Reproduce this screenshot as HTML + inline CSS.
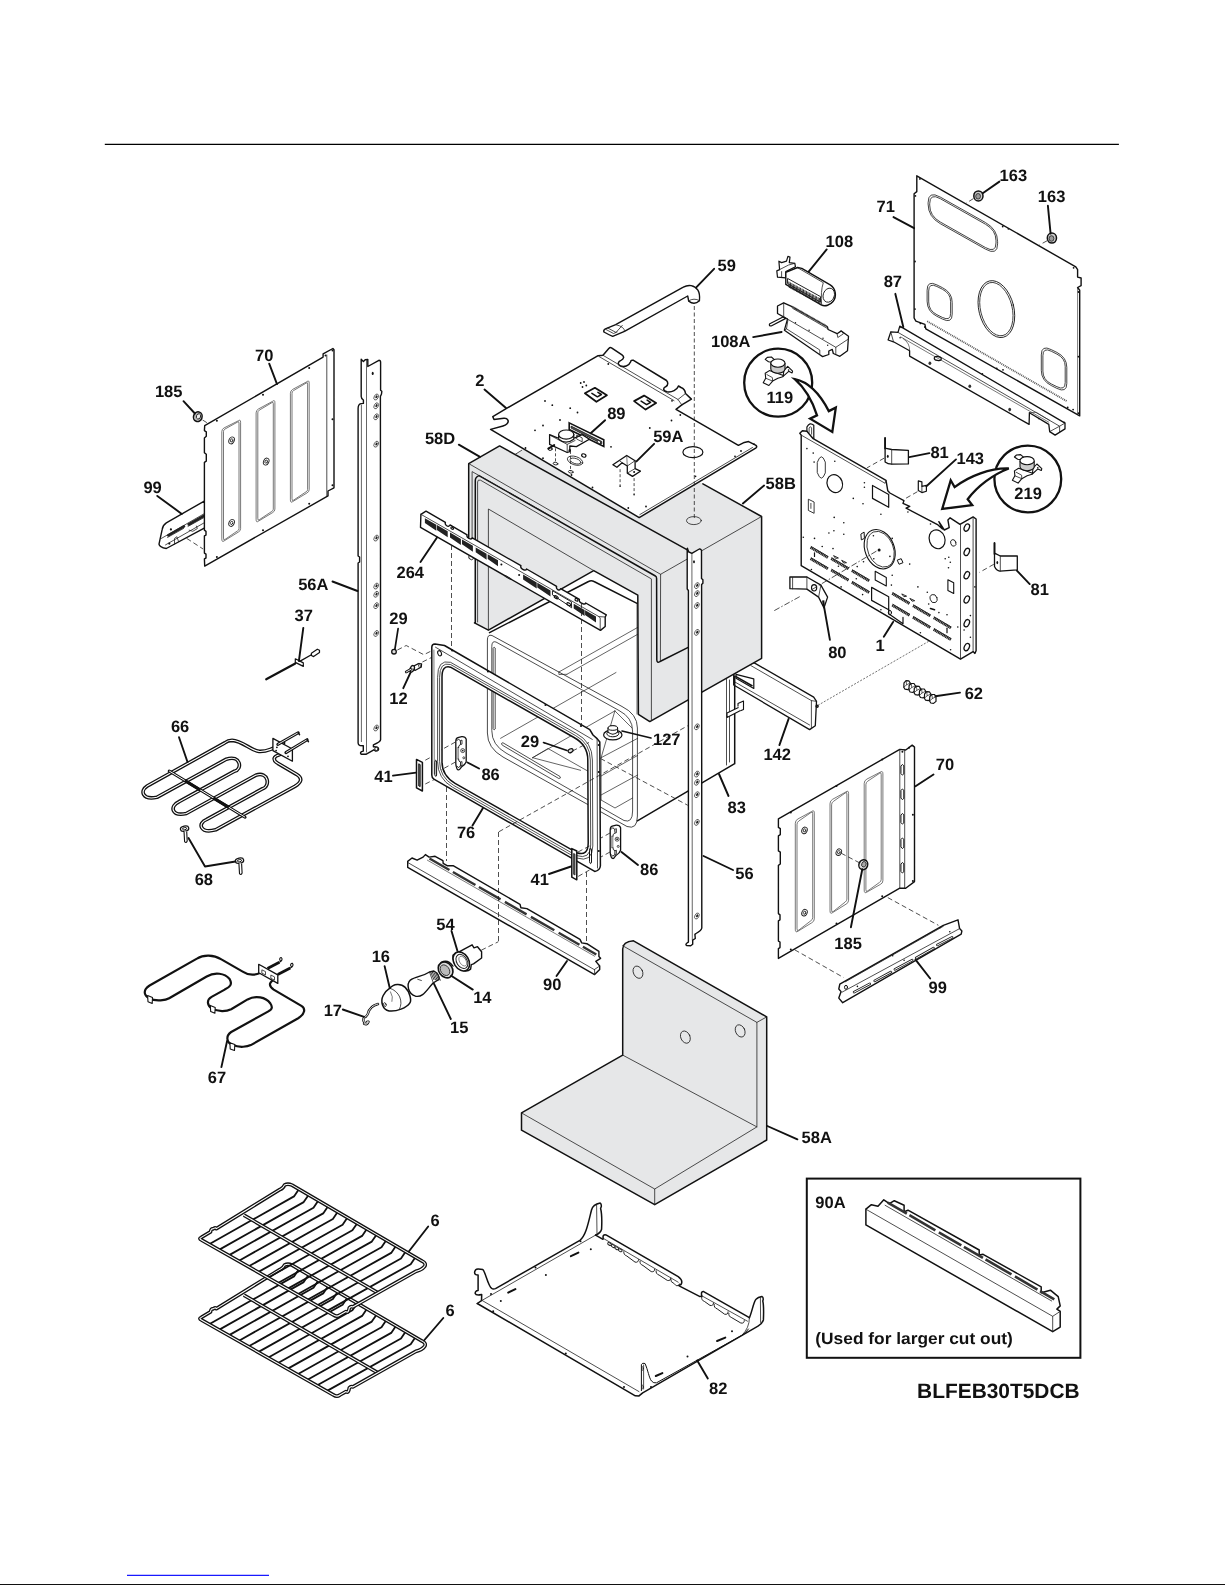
<!DOCTYPE html>
<html><head><meta charset="utf-8"><title>Parts diagram</title>
<style>
html,body{margin:0;padding:0;background:#fff;}
body{width:1225px;height:1585px;overflow:hidden;font-family:"Liberation Sans",sans-serif;}
svg{display:block;}
.k{fill:none;stroke:#111;stroke-width:1.5;stroke-linejoin:round;stroke-linecap:round;}
.t{fill:none;stroke:#222;stroke-width:0.8;stroke-linejoin:round;stroke-linecap:round;}
.w{fill:#fff;stroke:#111;stroke-width:1.5;stroke-linejoin:round;}
.wt{fill:#fff;stroke:#222;stroke-width:0.8;stroke-linejoin:round;}
.g{fill:#e6e7e8;stroke:#111;stroke-width:1.5;stroke-linejoin:round;}
.gt{fill:#e6e7e8;stroke:#222;stroke-width:0.8;stroke-linejoin:round;}
.d{fill:none;stroke:#222;stroke-width:0.8;stroke-dasharray:5 3;}
.l{fill:none;stroke:#111;stroke-width:1.9;stroke-linecap:round;}
.b{fill:#111;stroke:none;}
</style></head><body>
<svg width="1225" height="1585" viewBox="0 0 1225 1585">
<rect width="1225" height="1585" fill="#fff"/>
<!-- p00_frame -->
<line x1="104.8" y1="144.4" x2="1118.9" y2="144.4" stroke="#000" stroke-width="1.3"/>
<line x1="127" y1="1575.4" x2="269" y2="1575.4" stroke="#1a1aff" stroke-width="1.1"/>
<rect x="0" y="1584" width="1225" height="1" fill="#111"/>
<!-- p10_panel70L -->
<path class="w" d="M204.7 500.8L166.3 522.9Q162.7 525.3 162.2 529.4L159 544.1Q159.5 547.3 166.3 548.5L204.7 527.8Z" style="stroke-width:1.4"/>
<path class="t" d="M161.4 538.4L204.7 513.4"/>
<path class="t" d="M165.5 544.9L204.7 522.5"/>
<path d="M168.3 535.4L184 526.4" style="fill:none;stroke:#222;stroke-width:2.6;stroke-linecap:round"/>
<path class="t" d="M167.6 537.4L183.6 528.4"/>
<path d="M188.7 524.5L204.7 515.3" style="fill:none;stroke:#222;stroke-width:2.6;stroke-linecap:round"/>
<path class="t" d="M188 526.4L204.4 517.3"/>
<path class="t" d="M174.5 544.1L174.5 538.4L176.9 536.7L178.6 541.6"/>
<path class="t" d="M189.2 530.2L192.8 531.3L197.3 528.6L196.5 526.1"/>
<circle class="b" cx="170.9" cy="529.4" r="1.1"/>
<circle class="b" cx="169.3" cy="543.6" r="1.1"/>
<path class="d" d="M186.7 538.4L203.1 549"/>
<path class="w" d="M204.7 425.7L323.1 357.1L323.1 353.9L332.9 348.5L334 349.8L334 487.8L328 491L328 495.9L204.7 566.1L204.4 558.8L206 558L206 554.2L204.4 553.1L204.4 535.9L206 535.1L206 531.3L204.4 530.2L204.4 462.4L206.3 461.1L206.3 454.3L204.4 452.7L204.4 438L206.3 436.3L206.3 431.8L204.4 430.6Z" style="stroke-width:1.4"/>
<path class="t" d="M326.8 355L326.8 496.4"/>
<path class="t" d="M221.8 431.3Q221.8 429 224.1 427.9L238.3 420.8Q240.6 419 240.6 422.3L240.6 528.7Q240.6 531 238.3 532.1L224.1 540.9Q221.8 542.6 221.8 539.3Z" style="stroke:#555;stroke-width:0.8"/>
<path class="t" d="M223.5 431.3Q223.5 429.8 224.9 429.1L237.5 422.1Q239 420.8 239 423.2L239 528.7Q239 530.2 237.5 530.9L224.9 539.5Q223.5 540.9 223.5 538.4Z" style="stroke:#555;stroke-width:0.8"/>
<path class="t" d="M256.1 412.5Q256.1 410.2 258.4 409L272.6 401.3Q274.9 399.4 274.9 402.7L274.9 509.1Q274.9 511.4 272.6 512.6L258.4 521.2Q256.1 523 256.1 519.8Z" style="stroke:#555;stroke-width:0.8"/>
<path class="t" d="M257.8 412.5Q257.8 411 259.2 410.2L271.8 402.7Q273.3 401.3 273.3 403.7L273.3 509.2Q273.3 510.6 271.8 511.4L259.2 519.8Q257.8 521.2 257.8 518.7Z" style="stroke:#555;stroke-width:0.8"/>
<path class="t" d="M290.4 392.9Q290.4 390.6 292.7 389.4L306.9 381.7Q309.2 379.8 309.2 383.1L309.2 489.6Q309.2 491.8 306.9 493L292.7 501.6Q290.4 503.4 290.4 500.2Z" style="stroke:#555;stroke-width:0.8"/>
<path class="t" d="M292 392.9Q292 391.4 293.5 390.6L306.1 383.1Q307.6 381.7 307.6 384.1L307.6 489.6Q307.6 491.1 306.1 491.8L293.5 500.2Q292 501.6 292 499.1Z" style="stroke:#555;stroke-width:0.8"/>
<ellipse class="t" cx="231.6" cy="440.4" rx="2.6" ry="3.6" transform="rotate(25 231.6 440.4)" style="stroke-width:0.9"/>
<ellipse class="t" cx="231.6" cy="440.4" rx="1.2" ry="1.7" transform="rotate(25 231.6 440.4)" style="stroke-width:0.8"/>
<ellipse class="t" cx="231.6" cy="522.9" rx="2.6" ry="3.6" transform="rotate(25 231.6 522.9)" style="stroke-width:0.9"/>
<ellipse class="t" cx="231.6" cy="522.9" rx="1.2" ry="1.7" transform="rotate(25 231.6 522.9)" style="stroke-width:0.8"/>
<ellipse class="t" cx="266.2" cy="461.6" rx="2.6" ry="3.6" transform="rotate(25 266.2 461.6)" style="stroke-width:0.9"/>
<ellipse class="t" cx="266.2" cy="461.6" rx="1.2" ry="1.7" transform="rotate(25 266.2 461.6)" style="stroke-width:0.8"/>
<circle class="b" cx="216.9" cy="420.8" r="1"/>
<circle class="b" cx="263" cy="394.7" r="1"/>
<circle class="b" cx="309.2" cy="368.1" r="1"/>
<circle class="b" cx="332.5" cy="419.2" r="1"/>
<circle class="b" cx="216.9" cy="557.1" r="1"/>
<circle class="b" cx="263" cy="530.2" r="1"/>
<circle class="b" cx="309.2" cy="503.8" r="1"/>
<circle class="b" cx="325.5" cy="355.5" r="1"/>
<circle class="b" cx="332.5" cy="350.6" r="1"/>
<circle class="b" cx="332.5" cy="485.3" r="1"/>
<ellipse cx="197.8" cy="416.7" rx="4.3" ry="4.9" transform="rotate(20 197.8 416.7)" style="fill:#bbb;stroke:#111;stroke-width:1.5"/>
<ellipse cx="198.5" cy="416.4" rx="2.1" ry="2.7" transform="rotate(20 198.5 416.4)" style="fill:#eee;stroke:#222;stroke-width:0.9"/>
<path class="d" d="M202.6 420L207.1 422.8"/>
<path class="l" d="M183.5 401.2L194.9 413.5"/>
<path class="l" d="M269.2 363.7L277 384.1"/>
<path class="l" d="M157.3 495.9L181.8 513.9"/>
<!-- p11_elements -->
<path d="M283.5 742.8C273.7 748.2 267.1 751.9 259 751.4C250.8 750.6 242.7 740.8 232 740.3Q228 740.3 224.7 742.9L147.1 786.1C139.8 790.6 142.2 800.4 156.9 797.3L226.3 759.2C241 754.5 242.7 769.5 234.5 771.2L179 801.7C169.2 806.1 171.6 816.7 186.3 813.5L255.7 775.3C268.8 770.7 270.4 786.7 262.6 788.7L206.7 819.4C196.9 823.3 200.2 833.9 215.7 829.8L294.9 786.3C301.4 782.4 303.1 778.4 296.5 774.3L277.8 763.3C272 759.6 273.7 756.3 279.4 754.7L287.6 750.3" fill="none" stroke="#111" stroke-width="3.7" stroke-linejoin="round" stroke-linecap="round"/>
<path d="M283.5 742.8C273.7 748.2 267.1 751.9 259 751.4C250.8 750.6 242.7 740.8 232 740.3Q228 740.3 224.7 742.9L147.1 786.1C139.8 790.6 142.2 800.4 156.9 797.3L226.3 759.2C241 754.5 242.7 769.5 234.5 771.2L179 801.7C169.2 806.1 171.6 816.7 186.3 813.5L255.7 775.3C268.8 770.7 270.4 786.7 262.6 788.7L206.7 819.4C196.9 823.3 200.2 833.9 215.7 829.8L294.9 786.3C301.4 782.4 303.1 778.4 296.5 774.3L277.8 763.3C272 759.6 273.7 756.3 279.4 754.7L287.6 750.3" fill="none" stroke="#fff" stroke-width="1.1" stroke-linejoin="round" stroke-linecap="round"/>
<path d="M169.2 771L245.1 817.2" fill="none" stroke="#111" stroke-width="3" stroke-linecap="round"/>
<path d="M169.2 771L245.1 817.2" fill="none" stroke="#fff" stroke-width="1"/>
<path d="M184.7 780.5L200.2 790M213.3 798L228.8 807.4" fill="none" stroke="#111" stroke-width="3.2"/>
<path class="w" d="M272.9 738.4L292.4 749L292.4 761.2L272.9 750.6Z" style="stroke-width:1.3"/>
<path d="M277.8 744.4L298.2 732.7" fill="none" stroke="#111" stroke-width="3" stroke-linecap="round"/>
<path d="M277.8 744.4L298.2 732.7" fill="none" stroke="#fff" stroke-width="0.9"/>
<path class="k" d="M298.2 732.7L299.5 734.6" style="stroke-width:1.6"/>
<path d="M285.9 752.6L307.1 739.7" fill="none" stroke="#111" stroke-width="3" stroke-linecap="round"/>
<path d="M285.9 752.6L307.1 739.7" fill="none" stroke="#fff" stroke-width="0.9"/>
<path class="k" d="M307.1 739.7L308.4 741.6" style="stroke-width:1.6"/>
<circle class="b" cx="276.1" cy="750.6" r="0.9"/>
<circle class="b" cx="288" cy="756.3" r="0.9"/>
<circle class="b" cx="276.9" cy="747.3" r="0.9"/>
<path class="l" d="M179 737.2L187.5 762"/>
<ellipse cx="184.6" cy="828.7" rx="4.2" ry="2.6" transform="rotate(-12 184.6 828.7)" fill="none" stroke="#111" stroke-width="1.3"/>
<ellipse cx="184.6" cy="828.7" rx="2.2" ry="1.1" transform="rotate(-12 184.6 828.7)" fill="none" stroke="#111" stroke-width="0.9"/>
<path d="M184 831.1l0.6 10.5q1.6 2 2.6 -0.6l-0.5 -9.5" fill="#fff" stroke="#111" stroke-width="1.1"/>
<ellipse cx="239.5" cy="860.7" rx="4.2" ry="2.6" transform="rotate(-12 239.5 860.7)" fill="none" stroke="#111" stroke-width="1.3"/>
<ellipse cx="239.5" cy="860.7" rx="2.2" ry="1.1" transform="rotate(-12 239.5 860.7)" fill="none" stroke="#111" stroke-width="0.9"/>
<path d="M238.9 863.1l0.6 10.5q1.6 2 2.6 -0.6l-0.5 -9.5" fill="#fff" stroke="#111" stroke-width="1.1"/>
<path class="l" d="M188.5 838L205 866.5L235.5 861.5" stroke-linejoin="round"/>
<path d="M260.6 972.8C254.1 975.7 247.6 974.9 242.7 971.6L221.4 959.4C213.3 954.5 203.5 954.5 196.9 958.6L149.6 985.5C143.1 989.6 143.1 995.3 149.6 998.6C156.1 1001.8 165.9 1000.2 169.2 998.2L206.7 976.5C214.9 971.6 224.7 973.3 229.6 979C232.9 984.7 229.6 987.1 224.7 989.6L211.6 996.9C205.9 1000.2 207.6 1005.9 211.6 1008.4C218.2 1012 226.3 1011.6 231.2 1009.2L247.6 999.4C255.7 995.3 265.5 996.9 270.4 1003.5C273.7 1008.4 270.4 1010.3 268.8 1011.1L231.2 1032C225.5 1035.8 226.3 1042.7 232.9 1045.1C239.4 1047.9 247.6 1046.7 250.8 1045.1L298.2 1018.2C305.5 1013.6 305.5 1008.4 301.4 1005.9L273.7 989.6C268 985.5 268.8 981.9 276.1 978.5" fill="none" stroke="#111" stroke-width="2.2" stroke-linejoin="round" stroke-linecap="round"/>
<path class="w" d="M147.6 995.6L152.5 997.6L152.2 1003.5L148 1001.8Z" style="stroke-width:1.1"/>
<path class="w" d="M210.3 1005.4L215.2 1007.4L214.9 1013.3L210.7 1011.6Z" style="stroke-width:1.1"/>
<path class="w" d="M229.9 1042.7L234.8 1044.6L234.5 1050.5L230.2 1048.9Z" style="stroke-width:1.1"/>
<path class="w" d="M258.7 964.3L277.8 974.9L277.8 983.4L258.7 972.8Z" style="stroke-width:1.3"/>
<path class="t" d="M262.2 970L265.5 971.6L265.5 974.9L262.2 973.3Z"/>
<path class="t" d="M271.2 975.2L274.5 976.9L274.5 980.1L271.2 978.5Z"/>
<path d="M267.5 968.5L279.4 962.2" fill="none" stroke="#111" stroke-width="2.8"/>
<path class="k" d="M279.4 962.2C281.8 961.3 283 958.9 281.3 957.6C279.7 957.3 279.1 959.7 280.4 960.9" style="stroke-width:1.1"/>
<path d="M277.8 974.4L290.3 967.9" fill="none" stroke="#111" stroke-width="2.8"/>
<path class="k" d="M290.3 967.9C292.8 967.1 293.9 964.6 292.3 963.3C290.7 963 290 965.4 291.3 966.6" style="stroke-width:1.1"/>
<path class="l" d="M227.1 1041L221.4 1067.1"/>
<!-- p12_lamp -->
<path class="w" d="M453 955.1L472.1 944.8L474 947.9L477.5 946.7L481.6 951.7L481.6 958L473.5 963.9L471.3 964.6L470.6 969.1C465.5 973.5 458.1 969.1 454.4 963.2Q452.2 958.8 453 955.1Z" style="stroke-width:1.4"/>
<ellipse cx="461.3" cy="961.4" rx="7.4" ry="10.2" transform="rotate(-32 461.3 961.4)" style="fill:#fff;stroke:#111;stroke-width:1.5"/>
<ellipse class="t" cx="461.9" cy="961.4" rx="5.2" ry="7.6" transform="rotate(-32 461.9 961.4)" style="stroke-width:1"/>
<ellipse class="t" cx="462.8" cy="961.1" rx="3.2" ry="5.4" transform="rotate(-32 462.8 961.1)" style="stroke:#777"/>
<ellipse cx="445.6" cy="969.9" rx="6.8" ry="8.4" transform="rotate(-35 445.6 969.9)" style="fill:#ddd;stroke:#111;stroke-width:1.6"/>
<ellipse cx="445" cy="970.2" rx="4.2" ry="5.8" transform="rotate(-35 445 970.2)" style="fill:#bbb;stroke:#333;stroke-width:0.9"/>
<path class="k" d="M441.2 962.4Q447.8 958.8 453 966.1" style="stroke-width:1.3"/>
<path class="w" d="M429.5 972C422.9 976.4 415.5 976.4 410.4 980.1C406 984.5 408.2 994 415.5 996.2C422.9 997.7 425.8 991.1 433.1 983L439 979.3Q439.7 974.2 433.9 971Z" style="stroke-width:1.4"/>
<path class="t" d="M429.5 972L433.4 983"/>
<path class="t" d="M430.6 971.7L433.9 979.6" style="stroke-width:0.9"/>
<path class="t" d="M432.3 972L435.5 979.8" style="stroke-width:0.9"/>
<path class="t" d="M433.9 972.3L437.1 979.9" style="stroke-width:0.9"/>
<path class="t" d="M435.5 972.6L438.7 980.1" style="stroke-width:0.9"/>
<path class="t" d="M437.1 972.9L440.3 980.2" style="stroke-width:0.9"/>
<path class="t" d="M417.7 979.3L421.4 980.5"/>
<path class="w" d="M389.8 988.2C393.5 983.7 400.8 983 405.2 987.4C409.6 991.8 411.8 999.9 409.9 1002.9C406.7 1008 396.4 1011.7 389.1 1010.9C382.4 1009.5 380.2 1001.4 383.2 995.5Q385.4 991.1 389.8 988.2Z" style="stroke-width:1.5"/>
<path class="t" d="M389.8 988.2C399.3 991.1 403.7 1001.4 399.3 1009.5"/>
<path class="t" d="M390.5 991.8Q393.5 997 392 1001.4" style="stroke-width:0.6"/>
<ellipse class="t" cx="384.9" cy="1004.6" rx="1.2" ry="2" transform="rotate(-20 384.9 1004.6)"/>
<path d="M378 1004C372.9 1005.1 369.2 1008.7 367.8 1013.9Q366.7 1016.8 364.1 1017.5Q362.6 1019.7 364.1 1022Q365.8 1024.2 367.3 1022.7Q366.7 1021.2 368.5 1021.7Q367 1025.6 364.1 1023.7" fill="none" stroke="#111" stroke-width="2.4" stroke-linejoin="round" stroke-linecap="round"/>
<path d="M378 1004C372.9 1005.1 369.2 1008.7 367.8 1013.9Q366.7 1016.8 364.1 1017.5Q362.6 1019.7 364.1 1022Q365.8 1024.2 367.3 1022.7Q366.7 1021.2 368.5 1021.7Q367 1025.6 364.1 1023.7" fill="none" stroke="#fff" stroke-width="0.9" stroke-linejoin="round" stroke-linecap="round"/>
<path class="l" d="M451.5 930.9L457.4 950.7"/>
<path class="l" d="M384.6 966.1L389.8 988.2"/>
<path class="l" d="M472.8 989.6L451.2 975.7"/>
<path class="l" d="M450.8 1019L433.9 983.7"/>
<path class="l" d="M342.8 1009.5L364.1 1016.8"/>
<path class="d" d="M481.3 950.2L498.4 941.7"/>
<!-- p13_panel71 -->
<path class="w" d="M899.8 326.1L1065 423.1L1065 428.9L1055.1 435.1L1049.7 431.6L1048.8 424.4L1029.4 412.7L1029.1 424.4L909.6 356.1L909.6 350.7L893.5 341.8L888.1 340L890.8 331.9L898 332.4Z" style="stroke-width:1.3"/>
<path class="t" d="M898 332.4L1059.6 426.2L1065 423.1"/>
<path class="t" d="M890.8 331.9L893.5 341.8"/>
<path class="t" d="M900.7 336.9L1048.8 422.2" style="stroke-width:0.6"/>
<path class="t" d="M909.6 350.7Q910.2 343.2 903.3 338.7" style="stroke-width:0.6"/>
<path class="t" d="M1029.4 412.7L1036.2 412.3L1049.7 420.4" style="stroke-width:0.6"/>
<path class="t" d="M1049.7 431.6L1059.6 426.2L1059.6 432.1"/>
<ellipse class="k" cx="937.8" cy="358.5" rx="3.6" ry="2" transform="rotate(12 937.8 358.5)" style="stroke-width:1.2"/>
<ellipse cx="929.9" cy="363.3" rx="1.4" ry="1.8" style="fill:#333"/>
<ellipse cx="969.8" cy="386.3" rx="1.4" ry="1.8" style="fill:#333"/>
<ellipse cx="1009.7" cy="409.6" rx="1.4" ry="1.8" style="fill:#333"/>
<circle class="b" cx="900.1" cy="337.8" r="0.8"/>
<circle class="b" cx="982.4" cy="373.7" r="0.8"/>
<circle class="b" cx="1038.9" cy="418.6" r="0.8"/>
<circle class="b" cx="1064.1" cy="422.2" r="0.8"/>
<circle class="b" cx="901" cy="327.4" r="0.8"/>
<path class="w" d="M916.8 175.8L1075.8 266.9L1077.6 269.6L1077.6 277.1L1081.1 278L1081.1 285.7L1077.6 287.5L1079.7 290.2L1079.7 415.9L925.8 328.8L924.9 324.3L915.9 321.1L914.1 318L914.1 193.8L916.8 191.6Z" style="stroke-width:1.4"/>
<path class="t" d="M1077.6 287.5L1077.6 414.7" style="stroke-width:0.6"/>
<path class="t" d="M928.1 202.4Q928.1 190.2 940.3 197.1L985.4 222.5Q997.6 229.4 997.6 241.7L997.6 243.8Q997.6 256 985.4 249.1L940.3 223.7Q928.1 216.8 928.1 204.5Z" style="stroke-width:0.85"/>
<path class="t" d="M927.1 289.8Q927.1 280 936.9 284.9L942.3 287.6Q952.2 292.5 952.2 302.4L952.2 314.1Q952.2 324 942.3 319L936.9 316.3Q927.1 311.4 927.1 301.5Z" style="stroke-width:0.85"/>
<path class="t" d="M1041.3 354.5Q1041.3 344.6 1051.2 349.6L1056.9 352.4Q1066.8 357.4 1066.8 367.3L1066.8 383.4Q1066.8 393.3 1056.9 388.4L1051.2 385.5Q1041.3 380.5 1041.3 370.7Z" style="stroke-width:0.85"/>
<path class="t" d="M929.7 203.3Q929.7 192.7 940.3 198.7L985.4 224.2Q996 230.1 996 240.7L996 242.9Q996 253.5 985.4 247.5L940.3 222Q929.7 216 929.7 205.5Z" style="stroke-width:0.85"/>
<path class="t" d="M928.7 290.7Q928.7 282.4 936.9 286.5L942.3 289.2Q950.6 293.4 950.6 301.6L950.6 313.3Q950.6 321.5 942.3 317.4L936.9 314.7Q928.7 310.6 928.7 302.3Z" style="stroke-width:0.85"/>
<path class="t" d="M1042.9 355.3Q1042.9 347.1 1051.2 351.2L1056.9 354.1Q1065.2 358.2 1065.2 366.4L1065.2 382.6Q1065.2 390.9 1056.9 386.7L1051.2 383.9Q1042.9 379.7 1042.9 371.5Z" style="stroke-width:0.85"/>
<ellipse class="t" cx="996.4" cy="309.1" rx="17.5" ry="29" transform="rotate(-14 996.4 309.1)" style="stroke-width:0.9"/>
<ellipse class="t" cx="996.4" cy="309.1" rx="15.8" ry="27.2" transform="rotate(-14 996.4 309.1)" style="stroke-width:0.8"/>
<path d="M927.2 321.3L1066.8 401.2" style="fill:none;stroke:#555;stroke-width:1.8;stroke-dasharray:1 0.9"/>
<circle class="b" cx="919.9" cy="178.9" r="0.9"/>
<circle class="b" cx="915.4" cy="195.9" r="0.9"/>
<circle class="b" cx="915" cy="261.5" r="0.9"/>
<circle class="b" cx="915" cy="309.1" r="0.9"/>
<circle class="b" cx="920.4" cy="323.4" r="0.9"/>
<circle class="b" cx="924.9" cy="327" r="0.9"/>
<circle class="b" cx="1002.7" cy="226.5" r="0.9"/>
<circle class="b" cx="1008.4" cy="228.8" r="0.9"/>
<circle class="b" cx="1073.6" cy="267.8" r="0.9"/>
<circle class="b" cx="1078.5" cy="292" r="0.9"/>
<circle class="b" cx="1078.5" cy="356.7" r="0.9"/>
<circle class="b" cx="1078.5" cy="413.2" r="0.9"/>
<circle class="b" cx="1073.1" cy="409.6" r="0.9"/>
<circle class="b" cx="1067.7" cy="407.5" r="0.9"/>
<circle class="b" cx="996.7" cy="368.3" r="0.9"/>
<circle class="b" cx="1003" cy="369.8" r="0.9"/>
<ellipse cx="978.4" cy="195.9" rx="4.6" ry="5" style="fill:#ccc;stroke:#111;stroke-width:1.5"/>
<ellipse cx="978.1" cy="196.3" rx="2.4" ry="2.8" style="fill:#999;stroke:#222;stroke-width:0.8"/>
<ellipse cx="1051.9" cy="238.1" rx="4.6" ry="5" style="fill:#ccc;stroke:#111;stroke-width:1.5"/>
<ellipse cx="1051.5" cy="238.5" rx="2.4" ry="2.8" style="fill:#999;stroke:#222;stroke-width:0.8"/>
<path class="d" d="M973.4 198.6L966.2 203.1"/>
<path class="d" d="M1047 240.8L1039.5 244.9"/>
<path class="l" d="M999.4 181.6L982.7 193.2"/>
<path class="l" d="M1047.9 205.8L1050.6 233.6"/>
<path class="l" d="M893.5 217.1L914.1 228.2"/>
<path class="l" d="M895.3 293.8L903.3 327"/>
<!-- p14_blower -->
<path class="w" d="M776.8 270.9L779.6 269.6L778.9 261.2L781.6 262.6L786.5 261.2L787.9 256.4L790 257.1L789.3 262.6L794.8 263.3L795.5 266.8L785.8 271.6L785.8 277.9L777.5 277.2Z" style="stroke-width:1.2"/>
<path class="t" d="M779.6 269.6L788.6 265L794.8 263.3"/>
<path class="t" d="M781.6 271.6L781.6 277.2"/>
<path class="w" d="M785.8 272.3L797.6 267.5L801.8 268.4L830.2 284.8C835.8 288.3 837.1 296.6 833 301.5C830.2 304.9 825.3 307 821.2 304.9L785.8 284.4Z" style="stroke-width:1.4"/>
<ellipse class="t" cx="828.8" cy="295.2" rx="5.6" ry="7.2" transform="rotate(20 828.8 295.2)" style="stroke-width:0.9"/>
<path class="t" d="M797.6 267.7L823.3 282.7Q820.5 291.1 821.6 304.7"/>
<path d="M788.8 281.6L789.4 288M790.3 282.4L790.9 288.8M791.8 283.2L792.3 289.6M793.2 284L793.8 290.3M794.7 284.7L795.2 291.1M796.1 285.5L796.7 291.9M797.6 286.3L798.1 292.7M799 287.1L799.6 293.4M800.5 287.8L801.1 294.2M802 288.6L802.5 295M803.4 289.4L804 295.8M804.9 290.2L805.4 296.6M806.3 290.9L806.9 297.3M807.8 291.7L808.3 298.1M809.2 292.5L809.8 298.9M810.7 293.3L811.3 299.7M812.2 294.1L812.7 300.4M813.6 294.8L814.2 301.2M815.1 295.6L815.6 302M816.5 296.4L817.1 302.8M818 297.2L818.5 303.5M819.4 297.9L820 304.3" fill="none" stroke="#222" stroke-width="0.95"/>
<path class="t" d="M787.9 278.6L820.5 296.6L820.5 302.2L787.9 283.8Z" style="stroke-width:1"/>
<path class="l" d="M826.7 249.4L808.7 271.6"/>
<path class="w" d="M785.8 318.4L771.2 326Q768.4 325.8 769.8 323.7L783 317Z" style="stroke-width:1.2"/>
<path class="w" d="M777.5 306L783.7 302.9L792 306.6L827.4 326.7L828.1 329.5L837.1 333.7L841.3 330.9L848.5 336.2L847.5 350.7L839.9 356.3L833.3 353.5L832.3 349.3L828.8 351L828.8 354.5L822.6 356.6L819.1 354.2L784.4 330.2L787.5 319.1L777.5 313.5Z" style="stroke-width:1.3"/>
<path class="t" d="M783.7 302.9L783.7 316.7L787.5 319.1"/>
<path class="t" d="M787.5 319.1L835.8 347.3L847.5 339.6"/>
<path class="t" d="M835.8 347.3L835.8 354.2"/>
<path class="t" d="M784.4 330.2L786.5 328.8L819.8 350L819.8 353.9"/>
<path class="t" d="M786.5 328.8L787.9 320.2"/>
<path d="M792 306.6L827.4 326.7" style="fill:none;stroke:#555;stroke-width:2.2;stroke-dasharray:0.7 0.7"/>
<path class="t" d="M792.7 308.4L827.1 328.3"/>
<path class="t" d="M837.1 333.7L837.8 337.5L843.4 333.8L841.3 330.9"/>
<circle class="b" cx="795.5" cy="322.7" r="0.7"/>
<circle class="b" cx="809.1" cy="330.2" r="0.7"/>
<circle class="b" cx="823" cy="338.2" r="0.7"/>
<circle class="b" cx="827.7" cy="345.2" r="0.7"/>
<path class="l" d="M753.2 337.1L781.6 332"/>
<circle cx="778.2" cy="382.7" r="34" style="fill:#fff;stroke:#111;stroke-width:2.3"/>
<path class="w" d="M765.2 373.3L769.4 370.6L783.4 375.6L782.8 376.7L777.9 378.2L772.6 381.1L768.9 385.5L763.2 382.7L765.7 378.2Z" style="stroke-width:1.1"/>
<path class="t" d="M765.7 378.2L772.6 381.1"/>
<path class="t" d="M766.9 374.6L772.4 377.6L772.6 381.1"/>
<path class="w" d="M783.9 370.6L787.7 366.4L792.6 371.1L792.1 372.9L788.7 371.3L783.1 376.4Z" style="stroke-width:1.1"/>
<circle cx="788.6" cy="370.1" r="0.8" fill="#111"/>
<path class="w" d="M765.2 359.4L767.3 357.4L771.4 357L774.9 360.1L771.4 362.1L768.5 361.7Z" style="stroke-width:1.1"/>
<path d="M770.8 363.1v6a7.1 4.1 0 0 0 14.2 0v-6" fill="#ccc" stroke="#111" stroke-width="1.1"/>
<ellipse cx="777.9" cy="363.1" rx="7.1" ry="4.1" fill="#fff" stroke="#111" stroke-width="1.1"/>
<path d="M794.8 379.2C805.2 381.3 817.7 389.6 828.8 411.1L835.8 407.6L832.3 431.9L810.1 418.7L817 415.3C812.2 400.7 805.2 388.2 794.8 379.2Z" style="fill:#fff;stroke:#111;stroke-width:2.3;stroke-linejoin:miter"/>
<!-- p15_panel1 -->
<path class="w" d="M806.9 433.3L806.9 427.1Q809.6 421.7 813.8 425.3L813.8 439.6Z" style="stroke-width:1.2"/>
<path class="t" d="M809.1 432.4L809.1 428Q810.5 425.3 811.6 428L811.6 434.2"/>
<path class="w" d="M799.8 433.3L802.4 430.7L806.9 431.2L813.2 438.7L886 480.4L887.8 490.8L889.9 493L903.9 500.7L903 503.4L909.7 506.4L906.1 508.2L938 524.9L942.5 528.9L938.9 521.7L944.3 530L949.2 527.6L947.9 519.9L950.1 517.8L960 524.4L973.1 516.9L976.1 519L976.1 650.7L974.9 653.4L973.1 651.6L960.5 659.1L801.2 565.7L801.2 435.1Z" style="stroke-width:1.4"/>
<path class="t" d="M801.2 435.1L885.1 483.3L886 480.4"/>
<path class="t" d="M960.5 524.9L960.5 659.1"/>
<path class="t" d="M973.1 517.8L973.1 651.6"/>
<ellipse class="k" cx="966.8" cy="527.6" rx="2.4" ry="3.8" transform="rotate(25 966.8 527.6)" style="stroke-width:1.3"/>
<ellipse class="k" cx="966.8" cy="551.9" rx="2.4" ry="3.8" transform="rotate(25 966.8 551.9)" style="stroke-width:1.3"/>
<ellipse class="k" cx="966.8" cy="575.2" rx="2.4" ry="3.8" transform="rotate(25 966.8 575.2)" style="stroke-width:1.3"/>
<ellipse class="k" cx="966.8" cy="599.5" rx="2.4" ry="3.8" transform="rotate(25 966.8 599.5)" style="stroke-width:1.3"/>
<ellipse class="k" cx="966.8" cy="623.2" rx="2.4" ry="3.8" transform="rotate(25 966.8 623.2)" style="stroke-width:1.3"/>
<ellipse class="k" cx="966.8" cy="647.1" rx="2.4" ry="3.8" transform="rotate(25 966.8 647.1)" style="stroke-width:1.3"/>
<path class="t" d="M817.4 462.1Q821.3 451.3 825.3 462.1L825.3 472.9Q821.3 483.6 817.4 472.9Z" style="stroke-width:0.9"/>
<ellipse class="k" cx="834.8" cy="483.6" rx="7.6" ry="9.2" transform="rotate(-20 834.8 483.6)" style="stroke-width:1.2"/>
<path class="k" d="M872.5 485.4L888.7 494.4L888.7 507.3L872.5 498.4Z" style="stroke-width:1.2"/>
<path class="t" d="M808.7 499.4L814.1 502L814.1 513.3L808.7 510.6Z" style="stroke-width:0.9"/>
<path class="t" d="M810.9 503.4L810.9 508.4"/>
<ellipse class="k" cx="879.7" cy="549.2" rx="14.6" ry="20.4" transform="rotate(-22 879.7 549.2)" style="stroke-width:1.1"/>
<ellipse class="t" cx="880.6" cy="549.2" rx="12.8" ry="18.6" transform="rotate(-22 880.6 549.2)"/>
<circle class="b" cx="879.1" cy="550.1" r="1.5"/>
<path class="k" d="M861.2 533.9L864.1 532.1L864.4 538.4L861.7 539.7Z" style="stroke-width:1"/>
<path class="k" d="M897.6 560L901.2 558.7L903 562.7L899.4 564.1Z" style="stroke-width:1"/>
<ellipse class="k" cx="937.1" cy="539.3" rx="7.8" ry="9.6" transform="rotate(-20 937.1 539.3)" style="stroke-width:1.2"/>
<ellipse class="t" cx="953.3" cy="542.9" rx="2.6" ry="3.4" transform="rotate(-20 953.3 542.9)" style="stroke-width:0.9"/>
<path class="k" d="M875.2 571.3L886.3 577.4L886.3 586L875.2 579.9Z" style="stroke-width:1.1"/>
<path class="k" d="M871.6 587.4L888.7 596.8L888.7 609.7L871.6 600.4Z" style="stroke-width:1.2"/>
<path class="k" d="M947.9 579.7L953.7 582.8L953.7 593.5L947.9 590.5Z" style="stroke-width:1.1"/>
<ellipse class="t" cx="933.6" cy="598.6" rx="3.4" ry="4.2" transform="rotate(-20 933.6 598.6)" style="stroke-width:0.9"/>
<path class="k" d="M888.7 609.7L888.7 613.8L903 623.7L903 617.4" style="stroke-width:1.2"/>
<ellipse class="k" cx="889.9" cy="612.6" rx="1.6" ry="2.2" style="stroke-width:1"/>
<path d="M810.5 547.4L828 557.6M810.5 558.7L828 568.9M831.2 558.7L848.6 568.9M831.2 570.2L848.6 580.4M851.8 570.7L869.3 581M851.8 582.4L869.3 592.7M892.2 593.5L909.7 603.8M892.2 605.2L909.7 615.5M912.9 605.8L930.3 616M912.9 617.4L930.3 627.7M933.6 617.8L951 628M933.6 629.5L951 639.7" fill="none" stroke="#222" stroke-width="2.7" stroke-dasharray="1.3 0.4"/>
<path d="M810.9 546.3L828.3 556.6M810.9 557.6L828.3 567.9M831.5 557.6L849 567.9M831.5 569.1L849 579.4M852.2 569.7L869.6 579.9M852.2 581.3L869.6 591.6M892.6 592.5L910 602.7M892.6 604.1L910 614.4M913.3 604.7L930.7 614.9M913.3 616.4L930.7 626.6M933.9 616.7L951.3 627M933.9 628.4L951.3 638.6" fill="none" stroke="#222" stroke-width="0.9"/>
<path class="k" d="M833.9 555.8L838.4 558L836 558.3Z" style="stroke-width:0.9"/>
<path class="k" d="M842 560.5L846.5 562.7L844.1 563Z" style="stroke-width:0.9"/>
<path class="k" d="M902.1 594.1L906.6 596.2L904.3 596.6Z" style="stroke-width:0.9"/>
<path class="k" d="M910.2 598.6L914.7 600.7L912.4 601.1Z" style="stroke-width:0.9"/>
<path class="k" d="M814.5 552.8L814.5 556.4" style="stroke-width:1.2"/>
<path class="k" d="M947 628.2L947 632.7" style="stroke-width:1.2"/>
<path class="k" d="M930.5 608.5L934.5 609.7" style="stroke-width:1.6"/>
<circle class="b" cx="806.9" cy="448.6" r="0.8"/>
<circle class="b" cx="813.2" cy="453.1" r="0.8"/>
<circle class="b" cx="814.1" cy="462.1" r="0.8"/>
<circle class="b" cx="834.8" cy="461.2" r="0.8"/>
<circle class="b" cx="864.4" cy="482.7" r="0.8"/>
<circle class="b" cx="864.4" cy="487.2" r="0.8"/>
<circle class="b" cx="853.3" cy="498.4" r="0.8"/>
<circle class="b" cx="863" cy="503.8" r="0.8"/>
<circle class="b" cx="880.9" cy="514.2" r="0.8"/>
<circle class="b" cx="834.2" cy="517.4" r="0.8"/>
<circle class="b" cx="843.8" cy="522.8" r="0.8"/>
<circle class="b" cx="828.9" cy="533" r="0.8"/>
<circle class="b" cx="833.9" cy="530.7" r="0.8"/>
<circle class="b" cx="843.8" cy="534.3" r="0.8"/>
<circle class="b" cx="814.5" cy="538.4" r="0.8"/>
<circle class="b" cx="803.3" cy="537.2" r="0.8"/>
<circle class="b" cx="822.2" cy="546.5" r="0.8"/>
<circle class="b" cx="833" cy="548.6" r="0.8"/>
<circle class="b" cx="838.4" cy="566.2" r="0.8"/>
<circle class="b" cx="857.2" cy="566.6" r="0.8"/>
<circle class="b" cx="863.5" cy="561.8" r="0.8"/>
<circle class="b" cx="856.3" cy="578.8" r="0.8"/>
<circle class="b" cx="909.7" cy="564.1" r="0.8"/>
<circle class="b" cx="892.2" cy="575.2" r="0.8"/>
<circle class="b" cx="891.4" cy="585.1" r="0.8"/>
<circle class="b" cx="862.6" cy="594.6" r="0.8"/>
<circle class="b" cx="841.1" cy="586.9" r="0.8"/>
<circle class="b" cx="811.4" cy="569.5" r="0.8"/>
<circle class="b" cx="917.9" cy="586.9" r="0.8"/>
<circle class="b" cx="927.3" cy="592.3" r="0.8"/>
<circle class="b" cx="928.7" cy="604" r="0.8"/>
<circle class="b" cx="938.9" cy="612.6" r="0.8"/>
<circle class="b" cx="947" cy="614.7" r="0.8"/>
<circle class="b" cx="945.2" cy="558.7" r="0.8"/>
<circle class="b" cx="948.8" cy="557.3" r="0.8"/>
<circle class="b" cx="950.3" cy="562.3" r="0.8"/>
<circle class="b" cx="948.5" cy="567.7" r="0.8"/>
<circle class="b" cx="907.9" cy="512" r="0.8"/>
<circle class="b" cx="930.5" cy="524" r="0.8"/>
<circle class="b" cx="957.8" cy="627" r="0.8"/>
<circle class="b" cx="964.1" cy="630" r="0.8"/>
<circle class="b" cx="970.4" cy="615.6" r="0.8"/>
<circle class="b" cx="950.6" cy="649.8" r="0.8"/>
<circle class="b" cx="920.4" cy="632.7" r="0.8"/>
<circle class="b" cx="880.9" cy="609.7" r="0.8"/>
<circle class="b" cx="873.4" cy="535.7" r="0.8"/>
<circle class="b" cx="873.8" cy="558.7" r="0.8"/>
<circle class="b" cx="889.9" cy="556.4" r="0.8"/>
<circle class="b" cx="892.2" cy="538.4" r="0.8"/>
<circle class="b" cx="974.9" cy="586.9" r="0.8"/>
<circle class="b" cx="970.4" cy="637.2" r="0.8"/>
<path class="w" d="M885.1 437.8L885.1 462.1Q887.8 464.2 891.7 464.2L908.4 463.9L908.4 450.4L891.7 449.5L886 448.3" style="stroke-width:1.3"/>
<path class="k" d="M885.1 437.8L885.1 448.6" style="stroke-width:1.8"/>
<path class="t" d="M891.7 449.5L891.7 464.2"/>
<ellipse cx="887.8" cy="456.3" rx="0.9" ry="1.6" style="fill:#111"/>
<path class="l" d="M909.3 457.1L929.4 453.1"/>
<path class="d" d="M884.2 458.1L867.1 467.8"/>
<path class="w" d="M918.3 480.9L918.3 490.5L921.9 492.6L926.4 491.2L926.4 485.4L921.9 486.3L921.9 481.8Z" style="stroke-width:1.2"/>
<path class="t" d="M921.9 486.3L921.9 492.6"/>
<path class="l" d="M956 459.4L926.4 486.3"/>
<path class="d" d="M917.4 491.7L903.9 499.4"/>
<path class="w" d="M789.9 577L789.9 588.7L806.9 589.1L818.6 597.1L824 607.9L827.6 597.1L820.9 585.1L806.9 577Z" style="stroke-width:1.3"/>
<path class="t" d="M792.6 577.4L792.6 588.9"/>
<path class="t" d="M806.9 577L806.9 589.1"/>
<path class="t" d="M820.9 585.1L818.6 597.1"/>
<ellipse class="k" cx="814.1" cy="587.8" rx="2.6" ry="3.2" style="stroke-width:1.1"/>
<path class="t" d="M824 600.7L824 606.7"/>
<path class="l" d="M823.1 601.3L829.9 639.9"/>
<path class="l" d="M893.1 621.9L883.8 636.7"/>
<path class="w" d="M994.5 543L994.5 566.5Q996.4 570.8 999.9 571.1L1017.3 569.8L1017.3 556L1000.3 556L995.1 553.4" style="stroke-width:1.3"/>
<path class="k" d="M994.5 543L994.5 554.1" style="stroke-width:1.8"/>
<path class="t" d="M1000.3 556L1000.3 571.1"/>
<ellipse cx="997.3" cy="562.6" rx="0.9" ry="1.6" style="fill:#111"/>
<path class="l" d="M1016.9 570.7L1029.7 584.1"/>
<path class="d" d="M993.8 564.3L979.4 572.4"/>
<circle cx="1027.8" cy="479" r="33.4" style="fill:#fff;stroke:#111;stroke-width:2.3"/>
<path class="w" d="M1014.4 470.9L1018.6 468.2L1032.6 473.2L1032 474.3L1027.1 475.8L1021.8 478.7L1018.1 483.1L1012.4 480.3L1014.9 475.8Z" style="stroke-width:1.1"/>
<path class="t" d="M1014.9 475.8L1021.8 478.7"/>
<path class="t" d="M1016.1 472.2L1021.6 475.2L1021.8 478.7"/>
<path class="w" d="M1033.1 468.2L1036.9 464L1041.8 468.7L1041.3 470.5L1037.9 468.9L1032.3 474Z" style="stroke-width:1.1"/>
<circle cx="1037.8" cy="467.7" r="0.8" fill="#111"/>
<path class="w" d="M1014.4 457L1016.5 455L1020.6 454.6L1024.1 457.7L1020.6 459.7L1017.7 459.3Z" style="stroke-width:1.1"/>
<path d="M1020 460.7v6a7.1 4.1 0 0 0 14.2 0v-6" fill="#ccc" stroke="#111" stroke-width="1.1"/>
<ellipse cx="1027.1" cy="460.7" rx="7.1" ry="4.1" fill="#fff" stroke="#111" stroke-width="1.1"/>
<path d="M1008.8 468.5C990.5 467.9 969.6 475.7 954.6 487.1L950.7 480.3L942.2 509L972.2 505.1L967.7 499.2C977.5 486.2 993.1 474.4 1008.8 468.5Z" style="fill:#fff;stroke:#111;stroke-width:2.3;stroke-linejoin:miter"/>
<!-- p16_right_lower -->
<path class="w" d="M749.7 662.9L754.3 662.9L813.7 697.1L816.5 701.3L815.3 725.7L809.6 729.6L733.7 685L733.7 674.3Z" style="stroke-width:1.3"/>
<path class="t" d="M750.9 665.6L811.4 700.6L811.4 728.5"/>
<path class="t" d="M811.4 700.6L816 701.3"/>
<path class="t" d="M734.2 681.6L809.6 725"/>
<path class="k" d="M736 674.3L753.8 678.9L753.8 688.5L736 678.2Z" style="stroke-width:1.2"/>
<path class="k" d="M736 676.6L752 685.7" style="stroke-width:1.6"/>
<circle class="k" cx="817.1" cy="706.3" r="1"/>
<path class="l" d="M788.6 718.9L779.4 745.1"/>
<path d="M817.8 705.4L929.1 641.1" style="fill:none;stroke:#333;stroke-width:0.7;stroke-dasharray:2 1.5"/>
<path class="w" d="M904 682.8L906.1 680.7L908.8 680.8L910.2 683L910.2 687.6L907.8 689.6L905 689.2L903.8 687.2Z" style="stroke-width:1.2"/>
<path class="t" d="M906.1 680.7L906.6 684.8L903.8 687.2" style="stroke-width:0.7"/>
<path class="t" d="M906.6 684.8L910.2 683" style="stroke-width:0.7"/>
<path class="w" d="M909.1 685.5L911.2 683.5L914 683.5L915.4 685.8L915.4 690.4L913 692.4L910.1 692L909 690Z" style="stroke-width:1.2"/>
<path class="t" d="M911.2 683.5L911.8 687.5L909 690" style="stroke-width:0.7"/>
<path class="t" d="M911.8 687.5L915.4 685.8" style="stroke-width:0.7"/>
<path class="w" d="M914.3 688.3L916.4 686.2L919.1 686.3L920.5 688.5L920.5 693.1L918.1 695.1L915.3 694.7L914.1 692.7Z" style="stroke-width:1.2"/>
<path class="t" d="M916.4 686.2L916.9 690.3L914.1 692.7" style="stroke-width:0.7"/>
<path class="t" d="M916.9 690.3L920.5 688.5" style="stroke-width:0.7"/>
<path class="w" d="M919.5 691L921.6 689L924.3 689L925.7 691.2L925.7 695.9L923.3 697.9L920.5 697.5L919.3 695.5Z" style="stroke-width:1.2"/>
<path class="t" d="M921.6 689L922.1 693L919.3 695.5" style="stroke-width:0.7"/>
<path class="t" d="M922.1 693L925.7 691.2" style="stroke-width:0.7"/>
<path class="w" d="M924.6 693.8L926.7 691.7L929.4 691.8L930.8 694L930.8 698.6L928.4 700.6L925.6 700.2L924.4 698.2Z" style="stroke-width:1.2"/>
<path class="t" d="M926.7 691.7L927.2 695.8L924.4 698.2" style="stroke-width:0.7"/>
<path class="t" d="M927.2 695.8L930.8 694" style="stroke-width:0.7"/>
<path class="w" d="M929.8 696.5L931.9 694.5L934.6 694.5L936 696.8L936 701.4L933.6 703.4L930.8 703L929.6 701Z" style="stroke-width:1.2"/>
<path class="t" d="M931.9 694.5L932.4 698.5L929.6 701" style="stroke-width:0.7"/>
<path class="t" d="M932.4 698.5L936 696.8" style="stroke-width:0.7"/>
<path class="l" d="M935.3 696.2L960 692.6"/>
<path class="w" d="M778.4 818.9L899.8 749.4L905.7 750L912.2 745.1L914.5 747.1L914.5 881.6L905.7 888.2L899.8 888.2L778.4 958.4L778.4 948.6L780 947.6L780 942L778.4 941.1L778.4 920.8L780 919.8L780 914.9L778.4 913.6L778.4 865.3L780.3 864L780.3 852.2L778.4 850.9L778.4 835.9L780.3 834.6L780.3 828.7L778.4 827.4Z" style="stroke-width:1.4"/>
<path class="t" d="M899.8 749.4L899.8 888.2"/>
<path class="t" d="M904.7 750L904.7 888.2"/>
<path class="k" d="M901.1 765.7Q902.4 763.1 903.8 765.7L903.8 773.9Q902.4 776.5 901.1 773.9Z" style="stroke-width:1"/>
<path class="k" d="M901.1 790.2Q902.4 787.6 903.8 790.2L903.8 798.4Q902.4 801 901.1 798.4Z" style="stroke-width:1"/>
<path class="k" d="M901.1 814.7Q902.4 812.1 903.8 814.7L903.8 822.9Q902.4 825.5 901.1 822.9Z" style="stroke-width:1"/>
<path class="k" d="M901.1 839.2Q902.4 836.6 903.8 839.2L903.8 847.3Q902.4 850 901.1 847.3Z" style="stroke-width:1"/>
<path class="k" d="M901.1 863.7Q902.4 861.1 903.8 863.7L903.8 871.8Q902.4 874.4 901.1 871.8Z" style="stroke-width:1"/>
<path class="t" d="M795.3 822.9Q795.3 820.2 798 818.9L811.7 811.5Q814.3 809.5 814.3 813.1L814.3 918.9Q814.3 921.5 811.7 922.8L798 931.2Q795.3 933.2 795.3 929.6Z" style="stroke:#555;stroke-width:0.8"/>
<path class="t" d="M797 824Q797 822.2 798.8 821L810.9 812.6Q812.7 810.8 812.7 813.6L812.7 917.7Q812.7 919.5 810.9 920.7L798.8 930.1Q797 931.9 797 929.1Z" style="stroke:#555;stroke-width:0.8"/>
<path class="t" d="M830 803.3Q830 800.7 832.6 799.3L846 791.9Q848.6 789.9 848.6 793.5L848.6 900.2Q848.6 902.9 846 904.2L832.6 912.6Q830 914.6 830 911Z" style="stroke:#555;stroke-width:0.8"/>
<path class="t" d="M831.6 804.4Q831.6 802.6 833.4 801.4L845.1 793.1Q846.9 791.2 846.9 794L846.9 899.1Q846.9 900.9 845.1 902.1L833.4 911.4Q831.6 913.3 831.6 910.5Z" style="stroke:#555;stroke-width:0.8"/>
<path class="t" d="M864.2 783Q864.2 780.4 866.9 779.1L880.2 772.2Q882.9 770.3 882.9 773.9L882.9 880.7Q882.9 883.3 880.2 884.5L866.9 892.1Q864.2 894 864.2 890.4Z" style="stroke:#555;stroke-width:0.8"/>
<path class="t" d="M865.9 784.2Q865.9 782.4 867.7 781.2L879.4 773.4Q881.2 771.6 881.2 774.4L881.2 879.5Q881.2 881.3 879.4 882.5L867.7 890.9Q865.9 892.7 865.9 890Z" style="stroke:#555;stroke-width:0.8"/>
<ellipse class="t" cx="804.5" cy="830.4" rx="2.6" ry="3.4" transform="rotate(25 804.5 830.4)" style="stroke-width:0.9"/>
<ellipse class="t" cx="804.5" cy="830.4" rx="1.2" ry="1.7" transform="rotate(25 804.5 830.4)"/>
<ellipse class="t" cx="838.8" cy="852.2" rx="2.6" ry="3.4" transform="rotate(25 838.8 852.2)" style="stroke-width:0.9"/>
<ellipse class="t" cx="838.8" cy="852.2" rx="1.2" ry="1.7" transform="rotate(25 838.8 852.2)"/>
<ellipse class="t" cx="804.5" cy="912.7" rx="2.6" ry="3.4" transform="rotate(25 804.5 912.7)" style="stroke-width:0.9"/>
<ellipse class="t" cx="804.5" cy="912.7" rx="1.2" ry="1.7" transform="rotate(25 804.5 912.7)"/>
<circle class="b" cx="790.8" cy="812.4" r="1"/>
<circle class="b" cx="836.5" cy="786" r="1"/>
<circle class="b" cx="882.2" cy="759.5" r="1"/>
<circle class="b" cx="912.9" cy="814.7" r="1"/>
<circle class="b" cx="912.9" cy="881" r="1"/>
<circle class="b" cx="790.8" cy="949.6" r="1"/>
<circle class="b" cx="836.5" cy="923.4" r="1"/>
<circle class="b" cx="882.2" cy="896.3" r="1"/>
<circle class="b" cx="909" cy="747.8" r="1"/>
<circle class="b" cx="902.4" cy="751.7" r="1"/>
<path class="d" d="M841.1 853.2L859.3 862.7"/>
<ellipse cx="863.3" cy="864.7" rx="4.4" ry="5" transform="rotate(20 863.3 864.7)" style="fill:#ddd;stroke:#111;stroke-width:1.5"/>
<ellipse cx="863.9" cy="864.3" rx="2.2" ry="2.8" transform="rotate(20 863.9 864.3)" style="fill:#aaa;stroke:#222;stroke-width:0.8"/>
<path class="l" d="M862.3 869.2L850.9 927.3"/>
<path class="l" d="M915.5 786.3L933.5 774.5"/>
<path class="d" d="M794.7 949.8L843.7 977.6"/>
<path class="d" d="M887.8 897.6L938.4 925.3"/>
<path class="w" d="M839.8 984.1L943.3 925.3L958 919.8L959.6 928.6L961.9 930.9L961.2 934.1L842.7 1002.7L838.8 998.1L841.1 991.6L838.8 989Z" style="stroke-width:1.4"/>
<path class="t" d="M845.3 981.8L943.3 926.3"/>
<path class="t" d="M842 992.2L959.6 928.6"/>
<path d="M854.1 992.2L869.8 983.8" style="fill:none;stroke:#222;stroke-width:2.6;stroke-linecap:round"/>
<path d="M854.1 992.2L869.8 983.8" style="fill:none;stroke:#fff;stroke-width:1;stroke-linecap:round"/>
<path d="M874.7 980.8L891 972" style="fill:none;stroke:#222;stroke-width:2.6;stroke-linecap:round"/>
<path d="M874.7 980.8L891 972" style="fill:none;stroke:#fff;stroke-width:1;stroke-linecap:round"/>
<path d="M894.9 969.4L912.2 960.2" style="fill:none;stroke:#222;stroke-width:2.6;stroke-linecap:round"/>
<path d="M894.9 969.4L912.2 960.2" style="fill:none;stroke:#fff;stroke-width:1;stroke-linecap:round"/>
<path d="M916.2 958L933.5 948.2" style="fill:none;stroke:#222;stroke-width:2.6;stroke-linecap:round"/>
<path d="M916.2 958L933.5 948.2" style="fill:none;stroke:#fff;stroke-width:1;stroke-linecap:round"/>
<path d="M937.4 944.9L952.1 937.4" style="fill:none;stroke:#222;stroke-width:2.6;stroke-linecap:round"/>
<path d="M937.4 944.9L952.1 937.4" style="fill:none;stroke:#fff;stroke-width:1;stroke-linecap:round"/>
<ellipse class="k" cx="846" cy="987.3" rx="1.5" ry="2" style="stroke-width:1"/>
<circle class="b" cx="857.4" cy="986.4" r="0.8"/>
<circle class="b" cx="892.7" cy="955.7" r="0.8"/>
<circle class="b" cx="904.1" cy="960.2" r="0.8"/>
<circle class="b" cx="949.8" cy="931.8" r="0.8"/>
<circle class="b" cx="940" cy="927.6" r="0.8"/>
<path class="l" d="M915.5 959.6L930.2 978.5"/>
<!-- p19_liner83 -->
<path class="k" d="M489.5 632.6L588.5 581.5Q591.2 580 594 581.5L637 603.3"/>
<path d="M487.4 640Q487.4 634 492 635.5L622 706.5Q637.4 714 637.4 728L637.4 816Q637.4 830 627 826.5L503 757Q487.4 748 487.4 733Z" style="stroke:#333;stroke-width:0.9;fill:none"/>
<path class="t" d="M491.8 646Q491.8 640.5 496 642L619 710.5Q632.6 717.5 632.6 731L632.6 811Q632.6 823.5 624 820.5L506 753Q491.8 745 491.8 731Z"/>
<path class="t" d="M493.3 648Q494.2 646 495.2 648L495.2 729Q494.2 731 493.3 729Z"/>
<path class="t" d="M502 744.8Q500.5 742.8 503 742.8L560 776.5Q561.5 778.3 559.2 778.5Z"/>
<path class="k" d="M637.4 820.8L734.7 763.7L734.7 676"/>
<path class="t" d="M726.5 677L726.5 765"/>
<path class="t" d="M729.5 680L729.5 762"/>
<path class="t" d="M558.9 672L637.7 627.4" style="stroke-width:0.7"/>
<path class="t" d="M566.9 674.3L637.7 634.3" style="stroke-width:0.7"/>
<path class="t" d="M558.9 672L558.9 674.5L566.9 674.3" style="stroke-width:0.7"/>
<path class="t" d="M500.6 738.3L616 672.5" style="stroke-width:0.7"/>
<path class="t" d="M532.6 757.7L614.9 710.9" style="stroke-width:0.7"/>
<path class="t" d="M532.6 757.7L580.6 770.3" style="stroke-width:0.7"/>
<path class="t" d="M532.6 757.7L548 748.5L600 778" style="stroke-width:0.7"/>
<path class="t" d="M601.1 757.7L637.7 738.3" style="stroke-width:0.7"/>
<path class="t" d="M601.1 776L637.7 755.4" style="stroke-width:0.7"/>
<path class="t" d="M601.1 795L637.7 775" style="stroke-width:0.7"/>
<path class="t" d="M614.9 710.9L601.1 757.7L601.1 800" style="stroke-width:0.7"/>
<path class="t" d="M614.9 710.9L632 728" style="stroke-width:0.7"/>
<path class="t" d="M601.1 800L615 808L632.6 798" style="stroke-width:0.7"/>
<path class="t" d="M637 603.3L637 714" style="stroke-width:0.7"/>
<ellipse cx="612.8" cy="734.9" rx="9.2" ry="5" fill="#fff" stroke="#111" stroke-width="1.2"/>
<ellipse cx="612.8" cy="733.5" rx="6" ry="3.3" fill="#fff" stroke="#111" stroke-width="1"/>
<path class="w" d="M608 732.2L608 728.2Q612.8 723.7 617.6 728.2L617.6 732.2Q612.8 736.2 608 732.2Z" style="stroke-width:1.1"/>
<ellipse cx="612.8" cy="728" rx="4.8" ry="2.3" fill="#fff" stroke="#111" stroke-width="1"/>
<path class="l" d="M622 731L651 738" style="stroke-width:1.6"/>
<path class="w" d="M727 713L740.5 706.5L740.5 710.5L727 717.5Z" style="stroke-width:1.1"/>
<path class="w" d="M738 706.5L738 703.5L743.5 701L743.5 709.5L740.5 710.8" style="stroke-width:1.1"/>
<path class="l" d="M719 774L728.5 796"/>
<!-- p20_cabinet -->
<path d="M468.7 463.6L499.6 445.9L515.3 454.3L521.8 450.2L579.7 415.5L761.6 516.5L761.6 658.3L649.8 721.6L638.4 714.3L637.8 595.1L593.7 570.6L488.4 630.2L474.5 622.9L474.5 541L468.7 538Z" style="stroke:none;fill:#e6e7e8"/>
<path class="k" d="M468.7 538L468.7 463.6L499.6 445.9L688.2 550.3"/>
<path class="k" d="M702.9 483.9L761.6 516.5L761.6 658.3L649.8 721.6L638.4 714.3L637.8 595.1L593.7 570.6L488.4 630.2L474.5 622.9"/>
<path class="k" d="M475.3 622.9L475.3 480.5Q475.3 477 479 475.6L655.4 576Q656.6 576.5 656.6 578.5L656.8 660Q657 663.5 660 661.5L688.2 647.3"/>
<path class="t" d="M468.7 463.6L660.6 574.3L761.6 516.5"/>
<path class="t" d="M660.6 574.3L660.4 661"/>
<path class="t" d="M472.1 538L472.1 471.6L560 521.3"/>
<path class="t" d="M477.6 622L477.6 482Q477.6 479.3 480.5 480.2L651.4 578.9L651.4 720.6"/>
<path class="t" d="M488.4 630.2L488.4 509L593.7 570.6"/>
<path class="t" d="M515.3 454.3L521.8 450.2"/>
<ellipse cx="693.9" cy="520.6" rx="7.4" ry="4" class="t"/>
<!-- p30_panel2 -->
<path class="w" d="M507 408.2L492.8 416.6L494 419.5L503.8 418.3C508 418 509.5 421.5 506.8 424Q505.5 425.3 503 426L490.6 429.4L639.2 517.6L756.1 447.8Q757.5 446.5 755.6 445.2L748.6 441.6L744.3 442.4L738.4 445.3L676 409.3L681.8 404.9L691.4 399.1L685.5 393.5Q685 389 681 387.5L678.5 386C677 390 672 392.5 667 391.8C663 391 662.5 388 666 386.5C668.5 385 668 382 666.5 380.5L633.5 360.3Q631 359.6 630.5 362C629 366 624 367.2 620.5 366C617 364.5 618 361.5 621 360.4C624 359 624.5 356.5 622 354.8L611.5 347.8Q610 347 609 348.3L603 355.3L598.1 355.7Z"/>
<path class="t" d="M599 356.5L674 400.6"/>
<path class="t" d="M603 355.3L678 399.5L681.8 404.9"/>
<path class="t" d="M678 399.5L685.5 393.5"/>
<path class="t" d="M639.8 514.6L752.5 447.5"/>
<ellipse cx="692.9" cy="452.2" rx="10" ry="5.5" fill="#fff" stroke="#111" stroke-width="1.2"/>
<path class="k" d="M584.9 393.3L594.9 387.8L606.9 395.3L596.4 401.8Z" style="stroke-width:1.8"/>
<path class="k" d="M591.9 393.3L597.4 396.8L601.4 394.5L597.9 392.3" style="stroke-width:1.5"/>
<path class="k" d="M634.1 401.1L644.1 395.6L656.1 403.1L645.6 409.6Z" style="stroke-width:1.8"/>
<path class="k" d="M641.1 401.1L646.6 404.6L650.6 402.3L647.1 400.1" style="stroke-width:1.5"/>
<circle cx="580.7" cy="383" r="0.9" class="b"/>
<circle cx="584" cy="382" r="0.9" class="b"/>
<circle cx="586.3" cy="385.5" r="0.9" class="b"/>
<circle cx="582.5" cy="387" r="0.9" class="b"/>
<circle cx="545" cy="401" r="0.9" class="b"/>
<circle cx="552.3" cy="405.2" r="0.9" class="b"/>
<circle cx="570.2" cy="408.2" r="0.9" class="b"/>
<circle cx="577.5" cy="412.5" r="0.9" class="b"/>
<circle cx="560" cy="420" r="0.9" class="b"/>
<circle cx="543" cy="425.5" r="0.9" class="b"/>
<circle cx="535" cy="430.3" r="0.9" class="b"/>
<circle cx="525.5" cy="448" r="0.9" class="b"/>
<circle cx="543" cy="458.2" r="0.9" class="b"/>
<circle cx="571.5" cy="475" r="0.9" class="b"/>
<circle cx="592.5" cy="487.5" r="0.9" class="b"/>
<circle cx="628.3" cy="508" r="0.9" class="b"/>
<circle cx="646" cy="506.5" r="0.9" class="b"/>
<circle cx="695.5" cy="476.3" r="0.9" class="b"/>
<circle cx="735" cy="456.3" r="0.9" class="b"/>
<circle cx="680.3" cy="415" r="0.9" class="b"/>
<circle cx="671.5" cy="420.5" r="0.9" class="b"/>
<circle cx="608.3" cy="364" r="0.9" class="b"/>
<circle cx="672" cy="400.8" r="0.9" class="b"/>
<circle cx="649.8" cy="428" r="0.9" class="b"/>
<circle cx="611" cy="446.8" r="0.9" class="b"/>
<circle cx="754" cy="444.2" r="0.9" class="b"/>
<circle cx="741" cy="451" r="0.9" class="b"/>
<path class="l" d="M484.5 389.5L506 408"/>
<!-- p35_bar264 -->
<path class="w" d="M420.9 514.3L426 511.1L445.4 522.3C444.6 524.5 446.9 526.3 448.2 526.2Q449.5 526.4 450 524.9L467.1 534.8C466.3 537 468.6 538.8 470.2 538.9Q471.8 539.3 472.3 537.8L520.9 565.7C520.1 567.9 522.4 569.7 524.2 570Q526.1 570.5 526.6 569L556.6 586.3C555.8 588.5 558.1 590.3 559.1 590Q560.1 590.1 560.6 588.6L579.4 599.4C578.6 601.6 580.9 603.4 583 603.8Q585.2 604.5 585.7 603L606.3 614.9L605.2 617L605.2 626.5L600.5 630.4L420.5 527.4Z" style="stroke-width:1.4"/>
<path class="t" d="M420.9 514.3L598.9 616.6L600.2 618L600.2 630"/>
<path class="t" d="M598.9 616.6L605 617"/>
<path d="M424.9 518.2L436.3 524.8L436.3 530.8L424.9 523ZM436.9 525.1L447.7 531.3L447.7 537.3L436.9 529.9ZM450 532.6L460.9 538.9L460.9 544.9L450 537.4ZM462 539.5L472.9 545.8L472.9 551.8L462 544.3ZM475.7 547.4L486.6 553.7L486.6 559.7L475.7 552.2ZM487.7 554.3L498 560.2L498 566.2L487.7 559.1ZM523.1 574.6L536.7 582.5L536.7 588.5L523.1 579.4ZM537.3 582.8L550.5 590.4L550.5 596.4L537.3 587.6ZM573.7 603.7L584.6 610L584.6 616L573.7 608.5ZM585.1 610.3L596 616.5L596 622.5L585.1 615.1Z" fill="#222"/>
<path class="t" d="M552.8 590.9L571.4 601.8L571.6 607.8L565 603.1L552.8 595.1Z" style="stroke-width:1"/>
<ellipse class="k" cx="556.2" cy="597.3" rx="2.2" ry="1.2" transform="rotate(30 556.2 597.3)" style="stroke-width:1.2"/>
<ellipse class="k" cx="568.8" cy="604.3" rx="2.2" ry="1.2" transform="rotate(30 568.8 604.3)" style="stroke-width:1.2"/>
<ellipse class="k" cx="576.5" cy="599.8" rx="1.6" ry="1.1" transform="rotate(30 576.5 599.8)" style="stroke-width:1.2"/>
<ellipse class="k" cx="452.2" cy="528.2" rx="1.5" ry="0.9" transform="rotate(30 452.2 528.2)" style="stroke-width:1.1"/>
<circle cx="501.4" cy="564.6" r="1" class="b"/>
<circle cx="519.1" cy="574.9" r="1" class="b"/>
<path class="t" d="M468.9 556L468.9 558.3L471.5 559.8L473.5 558.6" style="stroke-width:1"/>
<line x1="505" y1="575.8" x2="511" y2="579.3" stroke="#222" stroke-width="1.6"/>
<path class="l" d="M437 537.5L420.5 562"/>
<!-- p36_smallparts -->
<path class="w" d="M615.7 324.6L683.3 287.2C688.4 284.2 694.3 285 697.9 290.1Q700.2 293.8 699.4 300.8Q694.3 305.5 688.7 301.1L687.7 296L624.5 331.3L612.7 336.4Q609.1 334.9 603.9 332Q603.2 329.8 605.4 328.8Z" style="stroke-width:1.4"/>
<path class="t" d="M688.7 300.8Q694 297.5 699.4 300.6"/>
<path class="t" d="M615.7 324.6Q625.2 326.9 624.5 331.3"/>
<path class="t" d="M622.3 325.4L616.4 332"/>
<path class="t" d="M605.8 329.4L613.5 333.5L617.1 332"/>
<path class="t" d="M607.6 327.9L615.7 332.3"/>
<path class="l" d="M696.5 287.2L714.1 268.8"/>
<path d="M694.3 306V519" class="d" style="stroke-dasharray:4 2.5"/>
<ellipse class="t" cx="575.1" cy="460.7" rx="8" ry="4.2" transform="rotate(18 575.1 460.7)"/>
<ellipse class="t" cx="575.5" cy="461.1" rx="5.6" ry="2.6" transform="rotate(18 575.5 461.1)"/>
<ellipse class="t" cx="555.5" cy="463.6" rx="2.4" ry="1.3" transform="rotate(10 555.5 463.6)" style="stroke-width:0.9"/>
<ellipse class="t" cx="570.8" cy="471.8" rx="2.4" ry="1.3" transform="rotate(10 570.8 471.8)" style="stroke-width:0.9"/>
<path class="d" d="M555.5 448.3L555.5 462.7" style="stroke-dasharray:3 2"/>
<path class="d" d="M570.5 450.9L570.5 471.2" style="stroke-dasharray:3 2"/>
<path d="M569.2 422.9L603.8 439.8L603.8 446.4L569.2 429.4Z" style="fill:#fff;stroke:#111;stroke-width:1.6"/>
<path d="M571.1 426.1L601.8 441.5L601.8 443.8L571.1 428.1Z" style="fill:#555;stroke:#111;stroke-width:0.8"/>
<path d="M597.3 439.8L600.5 441.5L600.5 444.1L597.3 442.5Z" style="fill:#fff;stroke:#111;stroke-width:0.8"/>
<path class="w" d="M549.6 434.6L549.6 444.4L567.2 452.5L569.8 451.6L569.8 446L576.4 446.6L589.4 439.2L582.2 434.6L575.1 437.9L557.4 437.9Z" style="stroke-width:1.3"/>
<path class="t" d="M567.2 452.5L567.2 444.4L549.6 435"/>
<path class="t" d="M567.2 444.4L575.1 440.5"/>
<path class="t" d="M577 435.3L582.2 437.9L582.2 441.8L577 439.2Z"/>
<path d="M558.7 434.6L558.7 439.2Q565.9 445.1 573.8 439.2L573.8 434.6Z" fill="#fff" stroke="#111" stroke-width="1.2"/>
<ellipse cx="566.2" cy="434.6" rx="7.6" ry="4.6" style="fill:#fff;stroke:#111;stroke-width:1.2"/>
<path class="k" d="M548.3 448.6L554.2 445.1" style="stroke-width:2"/>
<ellipse class="k" cx="550.2" cy="449" rx="2" ry="1.4" style="stroke-width:1"/>
<ellipse class="k" cx="583.8" cy="455.5" rx="2.2" ry="1.6" transform="rotate(20 583.8 455.5)" style="stroke-width:1.2"/>
<circle class="b" cx="569.8" cy="450.3" r="1.2"/>
<path class="l" d="M605.1 420.2L590.7 433.3"/>
<path class="d" d="M620.1 469.2L620.1 486.2" style="stroke-dasharray:3 2"/>
<path class="d" d="M634.1 478.1L634.1 494.7" style="stroke-dasharray:3 2"/>
<path class="w" d="M612.9 464.7L626.7 455.5L635.1 460.7L635.1 468.6L640.4 471.2L632.5 476.4L627.3 473.1L627.3 466L622.1 462.7L616.9 467.3Z" style="stroke-width:1.3"/>
<path class="t" d="M626.7 455.5L627.3 466" style="stroke-width:0.6"/>
<path class="t" d="M635.1 460.7L627.3 466"/>
<path class="t" d="M622.1 462.7L619.5 460.7"/>
<path class="t" d="M635.1 468.6L627.3 473.1"/>
<circle class="b" cx="634.1" cy="472.1" r="1"/>
<circle class="b" cx="620.1" cy="486.2" r="0.8"/>
<circle class="b" cx="634.1" cy="494.7" r="0.8"/>
<path class="l" d="M654.1 443.8L636.5 461.4"/>
<path d="M266.2 679.3L295.3 663.5" style="fill:none;stroke:#111;stroke-width:2.2;stroke-linecap:round"/>
<path class="w" d="M295.3 658.8L303.3 662.9L303.3 666.4L295.3 662.4Z" style="stroke-width:1.2"/>
<path class="k" d="M299.7 661.4L311.4 654.7" style="stroke-width:1.3"/>
<path class="w" d="M311.4 653.2L317.3 649.2L319.5 650.2L319.5 652.6L313.6 656.6L311.4 655.5Z" style="stroke-width:1.2"/>
<path class="l" d="M303.3 627.9L298.9 661"/>
<ellipse cx="394" cy="651.7" rx="2.3" ry="2.3" style="fill:#ddd;stroke:#111;stroke-width:1.3"/>
<path class="l" d="M398.1 628.7L394.9 649.2" style="stroke-width:1.7"/>
<path class="d" d="M397.4 650L406.2 645.5L423.8 654.7L436.3 648.5"/>
<path class="w" d="M412.1 666.9L418.7 663.5L421.6 663.9L421.3 666.9L415 670.5Z" style="stroke-width:1.2"/>
<path class="t" d="M417.9 663.9L419.4 667.9"/>
<path class="t" d="M419.4 663.2L420.9 667.3"/>
<ellipse cx="412.1" cy="668.8" rx="2" ry="3.4" transform="rotate(25 412.1 668.8)" style="fill:#fff;stroke:#111;stroke-width:1.3"/>
<path d="M406.2 672L411.3 669.1" style="fill:none;stroke:#111;stroke-width:2.6;stroke-linecap:round"/>
<path d="M406.2 672L411.3 669.1" style="fill:none;stroke:#fff;stroke-width:0.9;stroke-linecap:round"/>
<path class="l" d="M403.3 688.2L410.6 672.3"/>
<path class="d" d="M422.4 662L436.3 655.1"/>
<path class="w" d="M416.5 759.4L422.4 762.4L422.4 791L416.5 787.8Z" style="stroke-width:1.5"/>
<path d="M418.7 763.8L420.2 764.6L420.2 786.6L418.7 785.9Z" style="fill:#666;stroke:#111;stroke-width:0.9"/>
<path class="l" d="M393 775.6L416.2 772.6"/>
<path class="d" d="M425.3 760.2L436.3 754.3"/>
<path class="d" d="M425.3 784L436.3 778.5"/>
<!-- p40_frame76 -->
<path d="M431.8 648Q431.6 644 435 643.9L444.5 645.5L589.8 729.6L593 735L597.1 738.6L599.8 742L600.4 865.7Q600 870.5 594.7 871.4L433.9 779.2Q431.8 778 431.8 775ZM442 677Q442 665 450.5 667.2L574 737.5Q587.8 745 587.8 760L588.2 843Q588.2 856.5 576.7 852.7L455.1 783.3Q442 775.5 442 762Z" fill="#fff" fill-rule="evenodd" stroke="none"/>
<path class="k" d="M431.8 648Q431.6 644 435 643.9L444.5 645.5L589.8 729.6L593 735L597.1 738.6L599.8 742L600.4 865.7Q600 870.5 594.7 871.4L433.9 779.2Q431.8 778 431.8 775Z"/>
<path class="k" d="M442 677Q442 665 450.5 667.2L574 737.5Q587.8 745 587.8 760L588.2 843Q588.2 856.5 576.7 852.7L455.1 783.3Q442 775.5 442 762Z"/>
<path class="t" d="M439.6 677Q439.6 661.5 450.5 664.5L575.5 735.5Q590.3 743.5 590.3 760L590.7 845Q590.5 860 576.5 855.6L453.5 785.3Q439.6 777 439.6 762Z"/>
<path class="t" d="M437.6 677Q437.4 659 450.5 662.3L576.5 733.6Q592.3 742 592.4 760L592.8 846Q592.5 863 576.5 858L452.5 787.2Q437.6 778.5 437.6 762Z"/>
<path class="t" d="M435.5 647.2L592.3 739.4"/>
<path class="t" d="M433.9 650L434.3 774" style="stroke-width:0.6"/>
<path class="t" d="M597.1 738.6L597.5 868"/>
<ellipse class="k" cx="439.6" cy="653.3" rx="1.8" ry="2.7" transform="rotate(-20 439.6 653.3)" style="stroke-width:1.1"/>
<path class="k" d="M434.9 762Q435.7 758 436.6 762L436.6 775Q435.7 778 434.9 775Z" style="stroke-width:1"/>
<path class="k" d="M589.6 850Q590.6 846 591.5 850L591.5 862Q590.6 865.5 589.6 862Z" style="stroke-width:1"/>
<circle cx="452.2" cy="650.5" r="1.1" class="b"/>
<circle cx="488" cy="671.5" r="1.1" class="b"/>
<circle cx="545.5" cy="705" r="1.1" class="b"/>
<circle cx="581" cy="726" r="1.1" class="b"/>
<circle cx="598.8" cy="745" r="1.1" class="b"/>
<circle cx="598.8" cy="772" r="1.1" class="b"/>
<circle cx="598.8" cy="851" r="1.1" class="b"/>
<path class="l" d="M483 808L472.5 825.5"/>
<!-- p41_bar90 -->
<path class="w" d="M407.7 861.4L412 858L417.1 860.2L423.1 857.1L425.4 854.6L429.1 857.1L435.1 856.3L442.9 860.6L443.2 863.3L447.1 865.7L453.1 865.7L520 904.3L520.9 907.7L526.9 908.6L580 939.4L581.7 942.9L586.9 943.7L598.9 951.4L598.9 956.6L600.6 958.3L595.8 961.4L599.7 966L599.7 969.4L594.6 974.6L407.7 867.4Z" style="stroke-width:1.4"/>
<path class="t" d="M594.6 969.8L594.6 974.6"/>
<path class="t" d="M594.6 969.4L599.7 966"/>
<path class="t" d="M408.2 862.8L594.6 969.8"/>
<path d="M429.5 858.5L596.3 954.5" style="fill:none;stroke:#333;stroke-width:2.4;stroke-dasharray:23 4 26 4 25 5 25 5 27 5 24 4"/>
<path class="t" d="M427.4 860.2L594.6 956.2" style="stroke-width:0.6"/>
<path class="l" d="M567 961L556.5 976"/>
<!-- p42_hinges -->
<path class="w" d="M455.8 741.1Q456 738.1 457.8 737.6L461.8 736.6Q465.3 736.4 466.2 739.1L466.2 761.6Q465.3 764.6 461.8 766.6L459.8 769.1Q458.3 770.8 457 768.8Q455.8 766.6 455.8 763.6Z" style="stroke-width:1.3"/>
<path d="M456.6 747.6L458.6 747.6L458.6 759.1L456.6 759.1Z" fill="#bbb" stroke="#555" stroke-width="0.5"/>
<path class="k" d="M457 740.6L458.3 739.1L460.3 740.6L460.6 744.1L458.8 746.1L458.6 747.6" style="stroke-width:0.9"/>
<path class="k" d="M460.6 740.6L462 740.1L462 744.1L460.6 744.6" style="stroke-width:0.8"/>
<path class="k" d="M458.6 759.1L459 761.1L460.6 762.1L460.4 766.1L458.3 767.6L457 766.1" style="stroke-width:0.9"/>
<path class="k" d="M460.6 762.1L462 761.6L462 765.1L460.6 766.1" style="stroke-width:0.8"/>
<circle cx="462.7" cy="750.6" r="2" fill="none" stroke="#222" stroke-width="0.8"/>
<circle cx="462.7" cy="750.6" r="0.9" fill="#222"/>
<circle cx="463.8" cy="757.8" r="1" fill="none" stroke="#222" stroke-width="0.8"/>
<path class="l" d="M467.5 762.5L479 768.5"/>
<path class="w" d="M610.2 829.7Q610.4 826.7 612.2 826.2L616.2 825.2Q619.7 825 620.6 827.7L620.6 850.2Q619.7 853.2 616.2 855.2L614.2 857.7Q612.7 859.4 611.4 857.4Q610.2 855.2 610.2 852.2Z" style="stroke-width:1.3"/>
<path d="M611 836.2L613 836.2L613 847.7L611 847.7Z" fill="#bbb" stroke="#555" stroke-width="0.5"/>
<path class="k" d="M611.4 829.2L612.7 827.7L614.7 829.2L615 832.7L613.2 834.7L613 836.2" style="stroke-width:0.9"/>
<path class="k" d="M615 829.2L616.4 828.7L616.4 832.7L615 833.2" style="stroke-width:0.8"/>
<path class="k" d="M613 847.7L613.4 849.7L615 850.7L614.8 854.7L612.7 856.2L611.4 854.7" style="stroke-width:0.9"/>
<path class="k" d="M615 850.7L616.4 850.2L616.4 853.7L615 854.7" style="stroke-width:0.8"/>
<circle cx="617.1" cy="839.2" r="2" fill="none" stroke="#222" stroke-width="0.8"/>
<circle cx="617.1" cy="839.2" r="0.9" fill="#222"/>
<circle cx="618.2" cy="846.4" r="1" fill="none" stroke="#222" stroke-width="0.8"/>
<path class="l" d="M621.5 852L638 865"/>
<path class="w" style="stroke-width:1.5" d="M571.8 848.6L576.8 851L576.8 879.8L571.8 877.2Z"/>
<path d="M573.6 853.5L575 854.2L575 875L573.6 874.3Z" fill="#666" stroke="#111" stroke-width="0.7"/>
<path class="l" d="M549 874L571 866.5"/>
<ellipse cx="570.6" cy="750.7" rx="2.6" ry="1.8" transform="rotate(-25 570.6 750.7)" fill="#ddd" stroke="#111" stroke-width="1.2"/>
<path class="l" d="M543.5 742.5L567 750.5" style="stroke-width:1.6"/>
<!-- p45_rails -->
<path class="w" d="M361.2 359.2L363.4 361.6L365.2 359.8L367.8 359.4L367.8 366.5L378.9 360.3Q380.6 360.3 380.6 362.3L380.6 390.3L381.8 391.3L381.5 394L380.4 396.5L380.6 739.6Q380.4 742 373.4 744.8L373.4 746.8Q378.6 746.6 378.6 749Q378.4 751.2 375.4 751L373.8 749.8L365.9 754.3L361.4 754.3Q359.5 753 361.5 751.6L363.3 751.1L363.3 745.7L360 745.5Q358.1 745 358.1 743L358.1 563L359.6 562L359.6 557L358.1 556L358.1 408.5Q358.1 404.2 361 403.6L363.4 403.4L363.4 400Q361.2 398.6 361.2 396.5Z" style="stroke-width:1.4"/>
<path class="t" d="M366.5 360L366.5 752" style="stroke-width:0.7"/>
<path class="t" d="M361.4 405L361.4 741.6" style="stroke-width:0.7"/>
<ellipse cx="372.7" cy="373.4" rx="1" ry="1.6" fill="#111"/>
<ellipse cx="376.2" cy="397" rx="2" ry="3.2" transform="rotate(28 376.2 397)" fill="#fff" stroke="#333" stroke-width="0.7"/><ellipse cx="376.5" cy="396.8" rx="1" ry="1.6" transform="rotate(28 376.5 396.8)" fill="#222"/>
<ellipse cx="376.2" cy="405.8" rx="2" ry="3.2" transform="rotate(28 376.2 405.8)" fill="#fff" stroke="#333" stroke-width="0.7"/><ellipse cx="376.5" cy="405.6" rx="1" ry="1.6" transform="rotate(28 376.5 405.6)" fill="#222"/>
<ellipse cx="376.2" cy="416.8" rx="2" ry="3.2" transform="rotate(28 376.2 416.8)" fill="#fff" stroke="#333" stroke-width="0.7"/><ellipse cx="376.5" cy="416.6" rx="1" ry="1.6" transform="rotate(28 376.5 416.6)" fill="#222"/>
<ellipse cx="376.2" cy="444.2" rx="2" ry="3.2" transform="rotate(28 376.2 444.2)" fill="#fff" stroke="#333" stroke-width="0.7"/><ellipse cx="376.5" cy="444" rx="1" ry="1.6" transform="rotate(28 376.5 444)" fill="#222"/>
<ellipse cx="376.2" cy="538.1" rx="2" ry="3.2" transform="rotate(28 376.2 538.1)" fill="#fff" stroke="#333" stroke-width="0.7"/><ellipse cx="376.5" cy="537.9" rx="1" ry="1.6" transform="rotate(28 376.5 537.9)" fill="#222"/>
<ellipse cx="376.2" cy="586.1" rx="2" ry="3.2" transform="rotate(28 376.2 586.1)" fill="#fff" stroke="#333" stroke-width="0.7"/><ellipse cx="376.5" cy="585.9" rx="1" ry="1.6" transform="rotate(28 376.5 585.9)" fill="#222"/>
<ellipse cx="376.2" cy="594.3" rx="2" ry="3.2" transform="rotate(28 376.2 594.3)" fill="#fff" stroke="#333" stroke-width="0.7"/><ellipse cx="376.5" cy="594.1" rx="1" ry="1.6" transform="rotate(28 376.5 594.1)" fill="#222"/>
<ellipse cx="376.2" cy="605.7" rx="2" ry="3.2" transform="rotate(28 376.2 605.7)" fill="#fff" stroke="#333" stroke-width="0.7"/><ellipse cx="376.5" cy="605.5" rx="1" ry="1.6" transform="rotate(28 376.5 605.5)" fill="#222"/>
<ellipse cx="376.2" cy="633.5" rx="2" ry="3.2" transform="rotate(28 376.2 633.5)" fill="#fff" stroke="#333" stroke-width="0.7"/><ellipse cx="376.5" cy="633.3" rx="1" ry="1.6" transform="rotate(28 376.5 633.3)" fill="#222"/>
<ellipse cx="376.2" cy="728" rx="2" ry="3.2" transform="rotate(28 376.2 728)" fill="#fff" stroke="#333" stroke-width="0.7"/><ellipse cx="376.5" cy="727.8" rx="1" ry="1.6" transform="rotate(28 376.5 727.8)" fill="#222"/>
<circle cx="376.3" cy="748.9" r="1.6" fill="#fff" stroke="#111" stroke-width="0.9"/>
<path class="l" d="M332.5 581.5L357.5 591"/>
<path class="w" d="M687.5 548.3L688 551.5L691.8 553.4L699.3 549Q701.5 548.8 701.5 551L701.5 578.5L702.9 579.8L702.9 583.2L701.6 584.5L701.8 928Q701.5 930.5 696 933.5L694.9 934.4L695.3 938.5L692.7 940.1L692.7 944.3L690.7 945.8L686.8 945.6Q685 944.5 687 943L688.4 942.1L688.4 590.5L687.2 589L687.2 548.6Z" style="stroke-width:1.4"/>
<path class="t" d="M691.9 553.5L692.3 940" style="stroke-width:0.7"/>
<ellipse cx="694" cy="561.8" rx="0.9" ry="1.5" fill="#111"/>
<ellipse cx="696.9" cy="585.6" rx="2" ry="3.2" transform="rotate(28 696.9 585.6)" fill="#fff" stroke="#333" stroke-width="0.7"/><ellipse cx="697.2" cy="585.4" rx="1" ry="1.6" transform="rotate(28 697.2 585.4)" fill="#222"/>
<ellipse cx="696.9" cy="593.6" rx="2" ry="3.2" transform="rotate(28 696.9 593.6)" fill="#fff" stroke="#333" stroke-width="0.7"/><ellipse cx="697.2" cy="593.4" rx="1" ry="1.6" transform="rotate(28 697.2 593.4)" fill="#222"/>
<ellipse cx="696.9" cy="605.5" rx="2" ry="3.2" transform="rotate(28 696.9 605.5)" fill="#fff" stroke="#333" stroke-width="0.7"/><ellipse cx="697.2" cy="605.3" rx="1" ry="1.6" transform="rotate(28 697.2 605.3)" fill="#222"/>
<ellipse cx="696.9" cy="632.4" rx="2" ry="3.2" transform="rotate(28 696.9 632.4)" fill="#fff" stroke="#333" stroke-width="0.7"/><ellipse cx="697.2" cy="632.2" rx="1" ry="1.6" transform="rotate(28 697.2 632.2)" fill="#222"/>
<ellipse cx="696.9" cy="726.8" rx="2" ry="3.2" transform="rotate(28 696.9 726.8)" fill="#fff" stroke="#333" stroke-width="0.7"/><ellipse cx="697.2" cy="726.6" rx="1" ry="1.6" transform="rotate(28 697.2 726.6)" fill="#222"/>
<ellipse cx="696.9" cy="774.1" rx="2" ry="3.2" transform="rotate(28 696.9 774.1)" fill="#fff" stroke="#333" stroke-width="0.7"/><ellipse cx="697.2" cy="773.9" rx="1" ry="1.6" transform="rotate(28 697.2 773.9)" fill="#222"/>
<ellipse cx="696.9" cy="782.3" rx="2" ry="3.2" transform="rotate(28 696.9 782.3)" fill="#fff" stroke="#333" stroke-width="0.7"/><ellipse cx="697.2" cy="782.1" rx="1" ry="1.6" transform="rotate(28 697.2 782.1)" fill="#222"/>
<ellipse cx="696.9" cy="794.7" rx="2" ry="3.2" transform="rotate(28 696.9 794.7)" fill="#fff" stroke="#333" stroke-width="0.7"/><ellipse cx="697.2" cy="794.5" rx="1" ry="1.6" transform="rotate(28 697.2 794.5)" fill="#222"/>
<ellipse cx="696.9" cy="822.4" rx="2" ry="3.2" transform="rotate(28 696.9 822.4)" fill="#fff" stroke="#333" stroke-width="0.7"/><ellipse cx="697.2" cy="822.2" rx="1" ry="1.6" transform="rotate(28 697.2 822.2)" fill="#222"/>
<ellipse cx="696.9" cy="916" rx="2" ry="3.2" transform="rotate(28 696.9 916)" fill="#fff" stroke="#333" stroke-width="0.7"/><ellipse cx="697.2" cy="915.8" rx="1" ry="1.6" transform="rotate(28 697.2 915.8)" fill="#222"/>
<path class="l" d="M703.5 856L733 870"/>
<!-- p47_dashes -->
<path class="l" d="M458.8 444.7L480 456.8"/>
<path class="l" d="M764.1 485.5L742.9 503.5"/>
<path class="d" d="M451.5 545V649"/>
<path class="d" d="M581.5 603V724"/>
<path class="d" d="M446.5 787V861"/>
<path class="d" d="M498.5 832V941"/>
<path class="d" d="M586.5 872V943"/>
<path class="d" d="M498.8 831.8L687.8 725.7"/>
<path class="d" d="M600.5 758.5L687.8 805.3"/>
<path class="d" d="M455.5 742L441 750"/>
<path class="d" d="M455.5 762L441 770"/>
<path class="d" d="M610 833L600 838.5"/>
<path class="d" d="M610 852L600 857.5"/>
<path class="d" d="M589.5 846L578 852"/>
<path class="d" d="M589.5 870L578 876.5"/>
<path class="d" d="M572.5 751L589 742.5"/>
<path d="M774.3 610.6L800 596.5" class="d" style="stroke-dasharray:6 2 1.5 2"/>
<path d="M812 589.5L880 549" class="d" style="stroke-dasharray:6 2 1.5 2"/>
<!-- p50_58A -->
<path class="g" d="M622.7 949Q622.7 941.8 633.5 940.8L766.7 1016.9L766.7 1140L654.7 1204.7L521.5 1130.2L521.5 1112.9L622.7 1055.1Z"/>
<path class="t" d="M622.7 945.7L756.9 1022.4L756.9 1126.9L654.7 1189"/>
<path class="t" d="M756.9 1022.4L766.7 1016.9"/>
<path class="t" d="M622.7 1055.1L756.9 1126.9"/>
<path class="t" d="M521.5 1112.9L654.7 1189L654.7 1204.7"/>
<ellipse class="t" cx="638" cy="972.2" rx="4.6" ry="6.4" transform="rotate(-25 638 972.2)"/>
<ellipse class="t" cx="685.4" cy="1037.1" rx="4.6" ry="6.4" transform="rotate(-25 685.4 1037.1)"/>
<ellipse class="t" cx="740.2" cy="1030.9" rx="4.6" ry="6.4" transform="rotate(-25 740.2 1030.9)"/>
<path class="l" d="M767.3 1126L797.4 1139.3"/>
<!-- p51_box90A -->
<rect x="806.8" y="1178.6" width="273.6" height="179.2" fill="#fff" stroke="#111" stroke-width="2"/>
<path class="w" d="M865.9 1209.2L865.9 1224.9L1052.7 1331.7L1060.2 1327.1L1060.2 1311.4L1056.9 1309.1L1060.2 1305.9L1058.2 1296.7L1050.4 1290.2L1041.2 1292.8L1041.2 1286.9L983.1 1254.3L979.2 1254.9L979.2 1250L908 1210.2L904.1 1211.8L904.1 1205.3L894.3 1200.7L889.4 1203.7L883.8 1199.8L878 1206.3L871.4 1204.7Z"/>
<path class="t" d="M865.9 1209.2L1052.7 1316.3L1052.7 1331.7"/>
<path class="t" d="M1052.7 1316.3L1060.2 1311.4"/>
<path d="M887.8 1202.7L1054.3 1299.3" style="stroke:#333;fill:none;stroke-dasharray:22 3 30 4 26 3;stroke-width:2.6"/>
<path class="t" d="M885.1 1205.3L1051.7 1301"/>
<!-- p52_racks -->
<path d="M209.6 1324L294 1276.4L298.7 1269.5M219.4 1329.6L303.7 1282.1L308.4 1275.2M229.2 1335.1L313.5 1287.7L318.2 1280.8M239 1340.7L323.2 1293.4L327.9 1286.5M248.8 1346.3L332.9 1299L337.6 1292.1M258.6 1351.9L342.6 1304.7L347.3 1297.8M268.4 1357.5L352.4 1310.3L357.1 1303.4M278.1 1363L362.1 1315.9L366.8 1309M287.9 1368.6L371.8 1321.6L376.5 1314.7M297.7 1374.2L381.5 1327.2L386.2 1320.3M307.5 1379.8L391.2 1332.9L395.9 1326M317.3 1385.3L401 1338.5L405.7 1331.6M327.1 1390.9L410.7 1344.2L415.4 1337.3" fill="none" stroke="#111" stroke-width="1.8" stroke-linejoin="round"/>
<path d="M243.9 1295.2L378.5 1373.2" fill="none" stroke="#111" stroke-width="3.7"/>
<path d="M243.9 1295.2L378.5 1373.2" fill="none" stroke="#fff" stroke-width="1.1"/>
<path d="M201.3 1317.4L210.5 1311.9Q211 1308.4 213 1308.9Q215.4 1307.1 216.4 1308.6L280.1 1269.4Q283.1 1268.4 284.6 1264.9Q288 1263.4 292 1265.1L422.1 1341.1Q426.6 1343.4 424.6 1346.4Q422.1 1349.9 415.8 1351.4L352.8 1386.9Q350.8 1385.9 349.3 1387.9Q348.5 1393.6 346 1391.6L339.9 1395Q336.9 1397.3 333.4 1394.9L201.8 1320.2Q198.3 1318.4 201.3 1317.4Z" fill="none" stroke="#111" stroke-width="3.7" stroke-linejoin="round"/>
<path d="M201.3 1317.4L210.5 1311.9Q211 1308.4 213 1308.9Q215.4 1307.1 216.4 1308.6L280.1 1269.4Q283.1 1268.4 284.6 1264.9Q288 1263.4 292 1265.1L422.1 1341.1Q426.6 1343.4 424.6 1346.4Q422.1 1349.9 415.8 1351.4L352.8 1386.9Q350.8 1385.9 349.3 1387.9Q348.5 1393.6 346 1391.6L339.9 1395Q336.9 1397.3 333.4 1394.9L201.8 1320.2Q198.3 1318.4 201.3 1317.4Z" fill="none" stroke="#fff" stroke-width="1.1" stroke-linejoin="round"/>
<path d="M209.6 1244L294 1196.4L298.7 1189.5M219.4 1249.6L303.7 1202.1L308.4 1195.2M229.2 1255.1L313.5 1207.7L318.2 1200.8M239 1260.7L323.2 1213.4L327.9 1206.5M248.8 1266.3L332.9 1219L337.6 1212.1M258.6 1271.9L342.6 1224.7L347.3 1217.8M268.4 1277.5L352.4 1230.3L357.1 1223.4M278.1 1283L362.1 1235.9L366.8 1229M287.9 1288.6L371.8 1241.6L376.5 1234.7M297.7 1294.2L381.5 1247.2L386.2 1240.3M307.5 1299.8L391.2 1252.9L395.9 1246M317.3 1305.3L401 1258.5L405.7 1251.6M327.1 1310.9L410.7 1264.2L415.4 1257.3" fill="none" stroke="#111" stroke-width="1.8" stroke-linejoin="round"/>
<path d="M243.9 1215.2L378.5 1293.2" fill="none" stroke="#111" stroke-width="3.7"/>
<path d="M243.9 1215.2L378.5 1293.2" fill="none" stroke="#fff" stroke-width="1.1"/>
<path d="M201.3 1237.4L210.5 1231.9Q211 1228.4 213 1228.9Q215.4 1227.1 216.4 1228.6L280.1 1189.4Q283.1 1188.4 284.6 1184.9Q288 1183.4 292 1185.1L422.1 1261.1Q426.6 1263.4 424.6 1266.4Q422.1 1269.9 415.8 1271.4L352.8 1306.9Q350.8 1305.9 349.3 1307.9Q348.5 1313.6 346 1311.6L339.9 1315Q336.9 1317.3 333.4 1314.9L201.8 1240.2Q198.3 1238.4 201.3 1237.4Z" fill="none" stroke="#111" stroke-width="3.7" stroke-linejoin="round"/>
<path d="M201.3 1237.4L210.5 1231.9Q211 1228.4 213 1228.9Q215.4 1227.1 216.4 1228.6L280.1 1189.4Q283.1 1188.4 284.6 1184.9Q288 1183.4 292 1185.1L422.1 1261.1Q426.6 1263.4 424.6 1266.4Q422.1 1269.9 415.8 1271.4L352.8 1306.9Q350.8 1305.9 349.3 1307.9Q348.5 1313.6 346 1311.6L339.9 1315Q336.9 1317.3 333.4 1314.9L201.8 1240.2Q198.3 1238.4 201.3 1237.4Z" fill="none" stroke="#fff" stroke-width="1.1" stroke-linejoin="round"/>
<path class="l" d="M408.8 1251.5L428.2 1226.5"/>
<path class="l" d="M424 1340.5L443.3 1318"/>
<!-- p53_tray82 -->
<path class="k" d="M477.3 1303.5L481.5 1300.6L481.7 1294.6Q476 1296 475.2 1293.5Q475 1290.8 478.1 1290.6L478.1 1275Q474.5 1275 474.6 1272.4Q475 1268.6 478.4 1268.9L482.8 1269.5C485.5 1272 488 1286 491.5 1288.2Q493 1289.6 495.5 1288.6L579.9 1240.3C586 1236 588.5 1222 591.5 1210Q593 1204.5 600.2 1203.1Q601.6 1204 601.3 1206.5L600.6 1208.5Q602.3 1215 601.6 1229.2Q600.5 1233 595.6 1235.1"/>
<path class="t" d="M596.6 1204.8L597 1234.5"/>
<path class="t" d="M482 1300.4L595.6 1235.1"/>
<path class="k" d="M595.6 1235.1L603 1239.3"/>
<path class="k" d="M603.2 1238.3Q602.3 1234.2 606 1234.9L678.2 1276.6Q683.5 1280.5 681 1284.5L678.6 1285.5"/>
<path class="t" d="M604 1238.8L678.2 1282.2"/>
<path class="t" d="M623.8 1251.6Q623.3 1254.8 626.8 1256L635 1262.1Q638.5 1262.9 638.5 1259.7" style="stroke-width:1"/>
<path class="t" d="M640 1261.1Q639.5 1264.3 643 1265.5L651.2 1271.6Q654.7 1272.4 654.7 1269.2" style="stroke-width:1"/>
<path class="t" d="M656.1 1270.7Q655.6 1273.9 659.1 1275.1L667.3 1280.4Q670.8 1281.2 670.8 1278" style="stroke-width:1"/>
<path class="t" d="M670.8 1279.5Q670.3 1282.1 673.8 1283.3L676.2 1285.7Q679.7 1286.5 679.7 1283.9" style="stroke-width:1"/>
<ellipse cx="609.5" cy="1244" rx="2" ry="1.2" transform="rotate(30 609.5 1244)" fill="none" stroke="#222" stroke-width="1"/>
<ellipse cx="613.1" cy="1246.1" rx="2" ry="1.2" transform="rotate(30 613.1 1246.1)" fill="none" stroke="#222" stroke-width="1"/>
<ellipse cx="616.7" cy="1248.2" rx="2" ry="1.2" transform="rotate(30 616.7 1248.2)" fill="none" stroke="#222" stroke-width="1"/>
<ellipse cx="620.3" cy="1250.3" rx="2" ry="1.2" transform="rotate(30 620.3 1250.3)" fill="none" stroke="#222" stroke-width="1"/>
<path class="k" d="M679.6 1286.1L699.5 1296.4L701.7 1296.2"/>
<path class="k" d="M701.9 1296.4Q700.5 1291.5 703.2 1291.4L749.4 1317.7"/>
<path class="t" d="M702.5 1296.2L747.5 1321.2"/>
<path class="t" d="M701.7 1297.2Q701.2 1300.4 704.7 1301.6L710 1305.4Q713.5 1306.2 713.5 1303" style="stroke-width:1"/>
<path class="t" d="M714.2 1304.5Q713.7 1307.7 717.2 1308.9L724.6 1314.2Q728.1 1315 728.1 1311.8" style="stroke-width:1"/>
<path class="t" d="M728.8 1313.3Q728.3 1316.5 731.8 1317.7L740.8 1323Q744.3 1323.8 744.3 1320.6" style="stroke-width:1"/>
<path class="k" d="M749.4 1317.7C752 1312 753.5 1302 756 1299.3Q758 1297 761.9 1296.4Q763.4 1297 763.2 1299.5L762.8 1301Q764 1306 763.4 1319.9Q762 1324 758 1326.2L642.7 1392.9L639 1395.9L635.3 1395.8L477.3 1303.5"/>
<path class="t" d="M760.4 1297.5L760.6 1322.5"/>
<path class="t" d="M749.4 1317.7Q749.5 1328 741.9 1335.3"/>
<path class="t" d="M482 1300.4L639 1391.6"/>
<path class="k" d="M641.4 1390.6L641.4 1364.5Q642.5 1362.5 645 1363.5C648 1370 649 1378 651.5 1381Q653.5 1383.5 656.5 1382.8L741.9 1335.3Q746 1332.5 748.5 1329" style="stroke-width:1"/>
<path class="t" d="M643.6 1365L643.6 1389"/>
<ellipse cx="642.4" cy="1368.5" rx="0.9" ry="1.8" class="t"/><ellipse cx="642.4" cy="1387" rx="0.9" ry="1.8" class="t"/>
<line x1="570.9" y1="1256.2" x2="578.4" y2="1252.6" stroke="#111" stroke-width="2" stroke-linecap="round"/>
<line x1="508.2" y1="1292.6" x2="515.4" y2="1289.1" stroke="#111" stroke-width="2" stroke-linecap="round"/>
<line x1="655.8" y1="1376" x2="662.4" y2="1373.1" stroke="#111" stroke-width="2" stroke-linecap="round"/>
<line x1="717.1" y1="1341" x2="725.3" y2="1337.6" stroke="#111" stroke-width="2" stroke-linecap="round"/>
<circle cx="590.8" cy="1249.2" r="1" class="b"/>
<circle cx="545.9" cy="1275" r="1" class="b"/>
<circle cx="500.8" cy="1301" r="1" class="b"/>
<circle cx="493.2" cy="1311.3" r="1" class="b"/>
<circle cx="565.8" cy="1353.5" r="1" class="b"/>
<circle cx="624" cy="1387" r="1" class="b"/>
<circle cx="687.5" cy="1356.4" r="1" class="b"/>
<circle cx="732" cy="1331.2" r="1" class="b"/>
<circle cx="580.5" cy="1241.3" r="1" class="b"/>
<circle cx="535.5" cy="1267.5" r="1" class="b"/>
<circle cx="491" cy="1294" r="1" class="b"/>
<circle cx="651" cy="1387" r="1" class="b"/>
<circle cx="697.3" cy="1360.5" r="1" class="b"/>
<path class="l" d="M697.8 1361.5L707.8 1378.4"/>
<!-- p99_labels -->
<g font-family="Liberation Sans, sans-serif" font-weight="bold" fill="#111" style="will-change:transform" text-rendering="geometricPrecision">
<text x="255.1" y="360.5" font-size="16.5">70</text>
<text x="154.9" y="397.4" font-size="16.5">185</text>
<text x="143.4" y="493" font-size="16.5">99</text>
<text x="298.2" y="590.4" font-size="16.5">56A</text>
<text x="396.5" y="578" font-size="16.5">264</text>
<text x="424.9" y="444" font-size="16.5">58D</text>
<text x="475.3" y="386.2" font-size="16.5">2</text>
<text x="294.6" y="620.7" font-size="16.5">37</text>
<text x="389.3" y="624" font-size="16.5">29</text>
<text x="389.3" y="703.7" font-size="16.5">12</text>
<text x="170.9" y="732" font-size="16.5">66</text>
<text x="374.3" y="782" font-size="16.5">41</text>
<text x="481.4" y="780.4" font-size="16.5">86</text>
<text x="456.9" y="837.6" font-size="16.5">76</text>
<text x="194.7" y="884.9" font-size="16.5">68</text>
<text x="436.3" y="929.6" font-size="16.5">54</text>
<text x="371.7" y="962.3" font-size="16.5">16</text>
<text x="473.2" y="1003.1" font-size="16.5">14</text>
<text x="450" y="1033.1" font-size="16.5">15</text>
<text x="323.7" y="1015.5" font-size="16.5">17</text>
<text x="207.8" y="1083.4" font-size="16.5">67</text>
<text x="430.4" y="1225.6" font-size="16.5">6</text>
<text x="445.5" y="1316.3" font-size="16.5">6</text>
<text x="709" y="1393.7" font-size="16.5">82</text>
<text x="543" y="989.8" font-size="16.5">90</text>
<text x="801.6" y="1143.3" font-size="16.5">58A</text>
<text x="834.3" y="949" font-size="16.5">185</text>
<text x="717.6" y="271" font-size="16.5">59</text>
<text x="711" y="347.1" font-size="16.5">108A</text>
<text x="766.5" y="402.6" font-size="16.5">119</text>
<text x="607.2" y="419" font-size="16.5">89</text>
<text x="653.2" y="442.4" font-size="16.5">59A</text>
<text x="765.6" y="488.8" font-size="16.5">58B</text>
<text x="520.8" y="746.7" font-size="16.5">29</text>
<text x="653" y="745" font-size="16.5">127</text>
<text x="763.4" y="759.8" font-size="16.5">142</text>
<text x="727.5" y="812.7" font-size="16.5">83</text>
<text x="640" y="874.7" font-size="16.5">86</text>
<text x="735.3" y="879" font-size="16.5">56</text>
<text x="530.6" y="885.1" font-size="16.5">41</text>
<text x="999.6" y="181" font-size="16.5">163</text>
<text x="1037.8" y="202.2" font-size="16.5">163</text>
<text x="876.5" y="212" font-size="16.5">71</text>
<text x="825.6" y="247.3" font-size="16.5">108</text>
<text x="883.7" y="287.1" font-size="16.5">87</text>
<text x="930.4" y="458.1" font-size="16.5">81</text>
<text x="956.5" y="463.7" font-size="16.5">143</text>
<text x="1014.3" y="498.6" font-size="16.5">219</text>
<text x="1030.6" y="595.3" font-size="16.5">81</text>
<text x="828.2" y="658" font-size="16.5">80</text>
<text x="875.5" y="650.8" font-size="16.5">1</text>
<text x="964.7" y="698.8" font-size="16.5">62</text>
<text x="935.8" y="770" font-size="16.5">70</text>
<text x="928.6" y="993.2" font-size="16.5">99</text>
<text x="815.3" y="1207.9" font-size="16.5">90A</text>
<text x="815.3" y="1344.1" font-size="16.5" textLength="197.5" lengthAdjust="spacingAndGlyphs">(Used for larger cut out)</text>
<text x="917.1" y="1398" font-size="20.9">BLFEB30T5DCB</text>
</g>
</svg>
</body></html>
